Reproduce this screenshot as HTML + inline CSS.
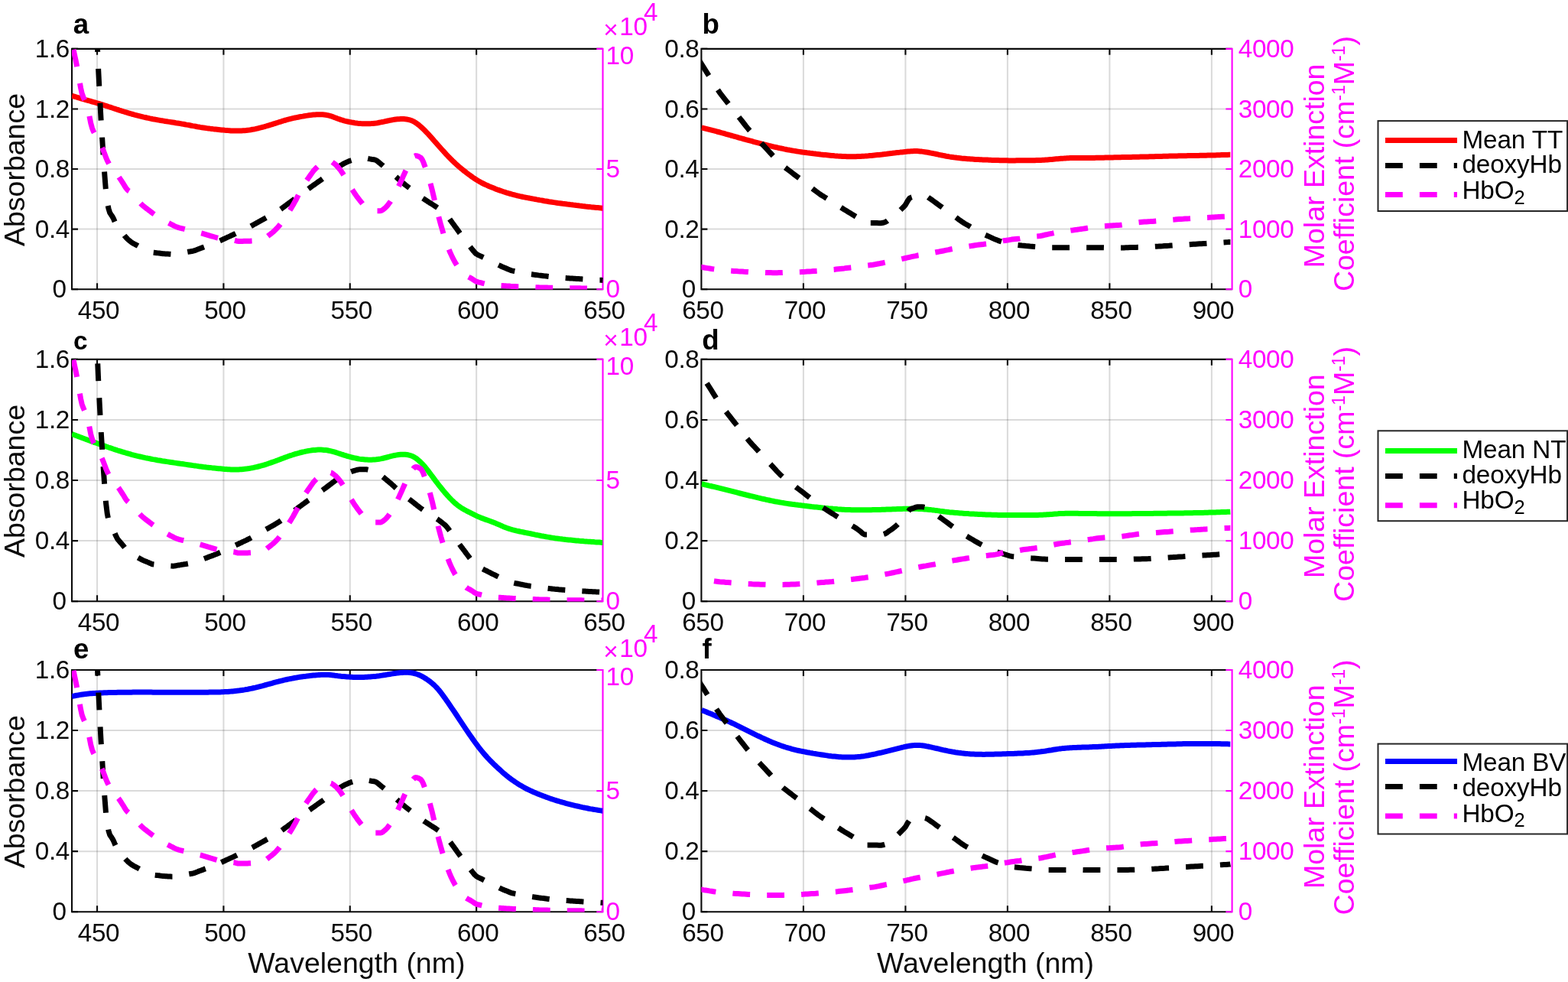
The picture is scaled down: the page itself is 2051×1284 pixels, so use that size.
<!DOCTYPE html>
<html lang="en"><head><meta charset="utf-8"><title>Absorbance spectra and haemoglobin extinction</title>
<style>html,body{margin:0;padding:0;background:#fff}body{width:2051px;height:1284px;overflow:hidden}svg{display:block}text{font-family:"Liberation Sans",Arial,Helvetica,sans-serif;}.t{font-size:33.33px;fill:#0a0a0a;letter-spacing:-0.4px}.l{font-size:37.5px;fill:#0a0a0a}.m{fill:#ff00ff}.b{font-weight:bold;fill:#000}.k{letter-spacing:-0.15px;fill:#000}.g{stroke:#262626;stroke-opacity:.17;stroke-width:2;fill:none}.ax{stroke:#0a0a0a;stroke-width:2.1;fill:none}.am{stroke:#ff00ff;stroke-width:2.1;fill:none}.d{fill:none;stroke-width:7;stroke-linejoin:round}</style></head><body>
<svg width="2051" height="1284" viewBox="0 0 2051 1284">
<rect width="2051" height="1284" fill="#fff"/>
<g id="panel-a">
<clipPath id="cpa"><rect x="94" y="63.35" width="695.1" height="315.05"/></clipPath>
<path class="g" d="M127.07,63.85 V378.2 M292.43,63.85 V378.2 M457.79,63.85 V378.2 M623.14,63.85 V378.2"/>
<path class="g" d="M94,299.61 H788.5 M94,221.03 H788.5 M94,142.44 H788.5"/>
<path class="ax" d="M788.5,63.85 H94 V378.2 H788.5"/>
<path class="ax" d="M127.07,378.2 v-8 M127.07,63.85 v8 M292.43,378.2 v-8 M292.43,63.85 v8 M457.79,378.2 v-8 M457.79,63.85 v8 M623.14,378.2 v-8 M623.14,63.85 v8 M94,378.2 h8 M94,299.61 h8 M94,221.03 h8 M94,142.44 h8 M94,63.85 h8"/>
<path class="am" d="M788.5,62.85 V379.2 M788.5,378.2 h-8.2 M788.5,221.03 h-8.2 M788.5,63.85 h-8.2"/>
<g clip-path="url(#cpa)">
<path class="d" stroke="#ff0000" d="M94,125.2 96,125.8 98,126.4 100,127 102,127.6 104,128.2 106,128.8 108,129.4 110,130 112,130.6 114,131.1 116,131.7 118,132.2 120,132.8 122,133.4 124,133.9 126,134.5 128,135.1 130,135.7 132,136.3 134,136.9 136,137.5 138,138.2 140,138.8 142,139.5 144,140.1 146,140.8 148,141.5 150,142.1 152,142.8 154,143.4 156,144.1 158,144.7 160,145.4 162,146 164,146.6 166,147.2 168,147.8 170,148.4 172,149 174,149.5 176,150.1 178,150.6 180,151.1 182,151.6 184,152.1 186,152.6 188,153.1 190,153.5 192,154 194,154.4 196,154.9 198,155.3 200,155.7 202,156 204,156.4 206,156.8 208,157.1 210,157.5 212,157.8 214,158.1 216,158.5 218,158.8 220,159.1 222,159.4 224,159.7 226,160 228,160.3 230,160.7 232,161 234,161.3 236,161.6 238,162 240,162.3 242,162.7 244,163.1 246,163.4 248,163.8 250,164.2 252,164.6 254,164.9 256,165.3 258,165.7 260,166 262,166.4 264,166.7 266,167 268,167.3 270,167.6 272,167.9 274,168.1 276,168.4 278,168.6 280,168.9 282,169.1 284,169.3 286,169.5 288,169.7 290,169.9 292,170.1 294,170.3 296,170.4 298,170.6 300,170.7 302,170.9 304,171 306,171 308,171.1 310,171.1 312,171.1 314,171 316,170.9 318,170.8 320,170.7 322,170.5 324,170.2 326,170 328,169.7 330,169.3 332,169 334,168.6 336,168.1 338,167.7 340,167.2 342,166.7 344,166.1 346,165.6 348,165 350,164.4 352,163.8 354,163.2 356,162.6 358,161.9 360,161.3 362,160.7 364,160 366,159.4 368,158.8 370,158.1 372,157.5 374,157 376,156.4 378,155.9 380,155.4 382,154.9 384,154.4 386,154 388,153.6 390,153.2 392,152.8 394,152.4 396,152.1 398,151.7 400,151.4 402,151.1 404,150.8 406,150.6 408,150.3 410,150.1 412,150 414,149.8 416,149.7 418,149.7 420,149.7 422,149.8 424,150 426,150.2 428,150.6 430,151 432,151.6 434,152.2 436,152.9 438,153.7 440,154.4 442,155.2 444,155.9 446,156.6 448,157.2 450,157.8 452,158.3 454,158.8 456,159.2 458,159.6 460,160 462,160.3 464,160.7 466,160.9 468,161.2 470,161.4 472,161.6 474,161.7 476,161.8 478,161.8 480,161.8 482,161.8 484,161.7 486,161.6 488,161.4 490,161.2 492,161 494,160.7 496,160.3 498,159.9 500,159.5 502,159.1 504,158.6 506,158.2 508,157.8 510,157.3 512,157 514,156.6 516,156.3 518,156 520,155.8 522,155.7 524,155.6 526,155.6 528,155.6 530,155.8 532,156 534,156.4 536,156.9 538,157.5 540,158.4 542,159.4 544,160.7 546,162.1 548,163.6 550,165.3 552,167.1 554,169 556,171 558,173.1 560,175.2 562,177.4 564,179.6 566,181.9 568,184.2 570,186.4 572,188.7 574,191 576,193.3 578,195.5 580,197.7 582,199.9 584,202.1 586,204.2 588,206.2 590,208.2 592,210.2 594,212.1 596,214 598,215.8 600,217.6 602,219.3 604,220.9 606,222.6 608,224.1 610,225.7 612,227.2 614,228.7 616,230.1 618,231.6 620,233 622,234.3 624,235.6 626,236.8 628,237.9 630,239 632,240 634,241 636,241.9 638,242.8 640,243.7 642,244.5 644,245.3 646,246.1 648,246.9 650,247.7 652,248.4 654,249.1 656,249.8 658,250.5 660,251.1 662,251.8 664,252.4 666,253 668,253.5 670,254.1 672,254.6 674,255.2 676,255.7 678,256.1 680,256.6 682,257 684,257.5 686,257.9 688,258.3 690,258.6 692,259 694,259.4 696,259.8 698,260.1 700,260.5 702,260.9 704,261.2 706,261.6 708,261.9 710,262.3 712,262.7 714,263 716,263.3 718,263.7 720,264 722,264.3 724,264.6 726,264.9 728,265.2 730,265.5 732,265.7 734,266 736,266.3 738,266.5 740,266.7 742,267 744,267.2 746,267.5 748,267.7 750,268 752,268.2 754,268.5 756,268.7 758,269 760,269.2 762,269.5 764,269.7 766,270 768,270.2 770,270.4 772,270.6 774,270.9 776,271.1 778,271.3 780,271.5 782,271.6 784,271.8 786,272 788,272.2 788.2,272.2"/>
<path class="d" stroke="#000" stroke-dasharray="22.8 22.1" stroke-dashoffset="21.23" d="M94,-920.9 95.7,-890.1 97.3,-852.9 99,-810.4 100.6,-763.6 102.3,-705.4 103.9,-635.7 105.6,-566.7 107.2,-510.5 108.9,-470.3 110.5,-437.1 112.2,-404.8 113.8,-367.5 115.5,-322.5 117.2,-272.4 118.8,-219.7 120.5,-166.6 122.1,-110.3 123.8,-50.5 125.4,6.2 127.1,53.5 128.7,91.5 130.4,125 132,154.7 133.7,181.3 135.3,206.6 137,230.6 138.6,250.8 140.3,264.5 142,272.8 143.6,278.1 145.3,280.7 146.9,283 148.6,286.2 150.2,290 151.9,293.8 153.5,296.8 155.2,299.1 156.8,301 158.5,302.8 160.1,304.7 161.8,306.7 163.4,308.8 165.1,310.8 166.8,312.5 168.4,314 170.1,315.3 171.7,316.6 173.4,317.7 175,318.6 176.7,319.5 178.3,320.3 180,321.2 181.6,322.1 183.3,323 184.9,323.9 186.6,324.7 188.3,325.4 189.9,326.1 191.6,326.8 193.2,327.4 194.9,328.1 196.5,328.9 198.2,329.6 199.8,330.1 201.5,330.3 203.1,330.5 204.8,330.7 206.4,330.9 208.1,331.1 209.8,331.3 211.4,331.5 213.1,331.7 214.7,331.8 216.4,331.9 218,332 219.7,332.1 221.3,332.2 223,332.3 224.6,332.4 226.3,332.5 227.9,332.3 229.6,332.1 231.2,331.7 232.9,331.4 234.6,331.2 236.2,330.9 237.9,330.6 239.5,330.4 241.2,330.1 242.8,329.9 244.5,329.6 246.1,329.3 247.8,329.1 249.4,328.8 251.1,328.6 252.7,328.2 254.4,327.7 256.1,327.1 257.7,326.4 259.4,325.8 261,325.1 262.7,324.5 264.3,323.9 266,323.3 267.6,322.7 269.3,322 270.9,321.4 272.6,320.8 274.2,320.2 275.9,319.6 277.5,319 279.2,318.3 280.9,317.7 282.5,317 284.2,316.4 285.8,315.7 287.5,314.9 289.1,314.2 290.8,313.4 292.4,312.6 294.1,311.9 295.7,311.1 297.4,310.3 299,309.6 300.7,308.8 302.4,308 304,307.3 305.7,306.5 307.3,305.8 309,305 310.6,304.2 312.3,303.5 313.9,302.7 315.6,302 317.2,301.2 318.9,300.4 320.5,299.6 322.2,298.8 323.8,298 325.5,297.2 327.2,296.3 328.8,295.4 330.5,294.4 332.1,293.5 333.8,292.6 335.4,291.7 337.1,290.8 338.7,289.9 340.4,289 342,288 343.7,287.1 345.3,286.2 347,285.3 348.6,284.4 350.3,283.5 352,282.6 353.6,281.6 355.3,280.7 356.9,279.8 358.6,278.9 360.2,277.9 361.9,277 363.5,276 365.2,274.9 366.8,273.8 368.5,272.6 370.1,271.3 371.8,270.1 373.5,268.9 375.1,267.6 376.8,266.4 378.4,265.2 380.1,264 381.7,262.8 383.4,261.6 385,260.4 386.7,259.1 388.3,257.9 390,256.7 391.6,255.5 393.3,254.3 394.9,253 396.6,251.8 398.3,250.6 399.9,249.4 401.6,248.3 403.2,247.1 404.9,245.9 406.5,244.7 408.2,243.5 409.8,242.3 411.5,241.2 413.1,240 414.8,238.8 416.4,237.6 418.1,236.5 419.8,235.3 421.4,234.1 423.1,232.9 424.7,231.7 426.4,230.5 428,229.3 429.7,228.1 431.3,226.8 433,225.6 434.6,224.4 436.3,223.2 437.9,221.9 439.6,220.7 441.2,219.4 442.9,218.2 444.6,217 446.2,216 447.9,215 449.5,214 451.2,213.2 452.8,212.4 454.5,211.6 456.1,210.9 457.8,210.3 459.4,209.7 461.1,209.2 462.7,208.6 464.4,208.2 466.1,207.8 467.7,207.3 469.4,207 471,206.8 472.7,206.8 474.3,206.8 476,206.8 477.6,206.8 479.3,206.9 480.9,207.2 482.6,207.6 484.2,207.9 485.9,208.2 487.6,208.4 489.2,208.7 490.9,209.1 492.5,209.9 494.2,211.1 495.8,212.5 497.5,213.9 499.1,215.2 500.8,216.5 502.4,217.9 504.1,219.2 505.7,220.6 507.4,221.9 509,223.3 510.7,224.7 512.4,226.2 514,227.6 515.7,229.1 517.3,230.6 519,232.1 520.6,233.6 522.3,235.1 523.9,236.5 525.6,237.9 527.2,239.3 528.9,240.6 530.5,242 532.2,243.3 533.8,244.5 535.5,245.8 537.2,247.1 538.8,248.3 540.5,249.6 542.1,250.9 543.8,252.2 545.4,253.5 547.1,254.8 548.7,256 550.4,257.3 552,258.5 553.7,259.6 555.3,260.7 557,261.8 558.7,262.9 560.3,264 562,265 563.6,266.1 565.3,267.1 566.9,268.1 568.6,269.2 570.2,270.3 571.9,271.4 573.5,272.5 575.2,273.7 576.8,274.9 578.5,276.2 580.1,277.5 581.8,278.9 583.5,280.5 585.1,282.4 586.8,284.6 588.4,286.9 590.1,289.2 591.7,291.4 593.4,293.6 595,295.9 596.7,298.1 598.3,300.4 600,302.7 601.6,305 603.3,307.2 605,309.4 606.6,311.6 608.3,313.8 609.9,316 611.6,318.1 613.2,320.4 614.9,322.5 616.5,324.6 618.2,326.7 619.8,328.7 621.5,330.6 623.1,332.1 624.8,333.1 626.5,333.9 628.1,334.6 629.8,335.4 631.4,336.2 633.1,337 634.7,337.9 636.4,338.7 638,339.5 639.7,340.4 641.3,341.2 643,342 644.6,342.8 646.3,343.6 647.9,344.5 649.6,345.3 651.3,346.1 652.9,346.9 654.6,347.7 656.2,348.5 657.9,349.2 659.5,349.9 661.2,350.5 662.8,351.2 664.5,351.9 666.1,352.6 667.8,353.3 669.4,353.8 671.1,354.2 672.8,354.5 674.4,354.8 676.1,355.1 677.7,355.4 679.4,355.8 681,356.1 682.7,356.4 684.3,356.8 686,357.1 687.6,357.4 689.3,357.7 690.9,358 692.6,358.3 694.2,358.5 695.9,358.7 697.6,359 699.2,359.2 700.9,359.4 702.5,359.6 704.2,359.9 705.8,360.1 707.5,360.3 709.1,360.5 710.8,360.7 712.4,360.9 714.1,361.1 715.7,361.3 717.4,361.5 719.1,361.7 720.7,361.8 722.4,362 724,362.2 725.7,362.4 727.3,362.5 729,362.7 730.6,362.9 732.3,363 733.9,363.2 735.6,363.3 737.2,363.4 738.9,363.5 740.5,363.6 742.2,363.7 743.9,363.8 745.5,363.9 747.2,364 748.8,364.1 750.5,364.2 752.1,364.3 753.8,364.4 755.4,364.5 757.1,364.6 758.7,364.7 760.4,364.8 762,364.9 763.7,365 765.4,365.1 767,365.2 768.7,365.3 770.3,365.4 772,365.5 773.6,365.6 775.3,365.7 776.9,365.8 778.6,365.9 780.2,366 781.9,366.1 783.5,366.2 785.2,366.2 786.8,366.3 788.5,366.4"/>
<path class="d" stroke="#ff00ff" stroke-dasharray="22.8 22.1" stroke-dashoffset="35.54" d="M94,55.7 95.7,63 97.3,70.6 99,78.4 100.6,86.5 102.3,95.7 103.9,105.7 105.6,115 107.2,122.2 108.9,126.8 110.5,130.4 112.2,133.9 113.8,138.3 115.5,144.9 117.2,153.2 118.8,161.3 120.5,167.4 122.1,171.5 123.8,174.8 125.4,177.7 127.1,180.7 128.7,183.8 130.4,186.8 132,189.8 133.7,193.2 135.3,197.1 137,201.5 138.6,205.9 140.3,209.9 142,213.1 143.6,216.2 145.3,219.7 146.9,222.6 148.6,224.5 150.2,225.9 151.9,227.3 153.5,228.9 155.2,231 156.8,233.4 158.5,235.9 160.1,238.4 161.8,241 163.4,243.8 165.1,246.3 166.8,248.3 168.4,249.7 170.1,250.7 171.7,251.8 173.4,253.1 175,254.9 176.7,257.2 178.3,259.5 180,261.7 181.6,263.5 183.3,265.3 184.9,267 186.6,268.6 188.3,270 189.9,271.3 191.6,272.6 193.2,273.8 194.9,275.1 196.5,276.3 198.2,277.6 199.8,278.8 201.5,280 203.1,281.2 204.8,282.4 206.4,283.5 208.1,284.6 209.8,285.6 211.4,286.6 213.1,287.5 214.7,288.4 216.4,289.3 218,290.2 219.7,291.1 221.3,291.9 223,292.8 224.6,293.7 226.3,294.5 227.9,295.3 229.6,296.1 231.2,296.8 232.9,297.4 234.6,297.9 236.2,298.3 237.9,298.7 239.5,299 241.2,299.5 242.8,299.9 244.5,300.3 246.1,300.7 247.8,301 249.4,301.4 251.1,301.8 252.7,302.2 254.4,302.6 256.1,303 257.7,303.3 259.4,303.7 261,304.2 262.7,304.7 264.3,305.1 266,305.6 267.6,306.1 269.3,306.6 270.9,307.1 272.6,307.6 274.2,308.1 275.9,308.6 277.5,309 279.2,309.5 280.9,310 282.5,310.5 284.2,311 285.8,311.4 287.5,311.7 289.1,311.9 290.8,312.2 292.4,312.4 294.1,312.7 295.7,313 297.4,313.2 299,313.5 300.7,313.6 302.4,313.7 304,313.8 305.7,314 307.3,314.4 309,314.9 310.6,315.3 312.3,315.5 313.9,315.5 315.6,315.4 317.2,315.4 318.9,315.3 320.5,315.3 322.2,315.3 323.8,315.3 325.5,315.2 327.2,315.2 328.8,315.1 330.5,315 332.1,314.9 333.8,314.7 335.4,314.5 337.1,314.3 338.7,314 340.4,313.7 342,313.3 343.7,312.8 345.3,312.2 347,311.3 348.6,310.1 350.3,308.8 352,307.4 353.6,306.2 355.3,304.9 356.9,303.6 358.6,302.1 360.2,300.5 361.9,298.8 363.5,297 365.2,295.1 366.8,293 368.5,290.8 370.1,288.5 371.8,286.2 373.5,283.8 375.1,281.3 376.8,278.7 378.4,276 380.1,273.4 381.7,270.7 383.4,267.9 385,265.1 386.7,262.1 388.3,258.9 390,255.7 391.6,252.6 393.3,249.4 394.9,246.2 396.6,243.1 398.3,240.3 399.9,237.7 401.6,235.3 403.2,233 404.9,230.7 406.5,228.3 408.2,226 409.8,223.8 411.5,221.8 413.1,220.1 414.8,218.5 416.4,217 418.1,215.6 419.8,214.2 421.4,212.6 423.1,211.4 424.7,210.9 426.4,210.8 428,210.7 429.7,210.7 431.3,210.7 433,211 434.6,211.9 436.3,213.2 437.9,214.4 439.6,215.8 441.2,217.5 442.9,219.4 444.6,221.4 446.2,223.7 447.9,226.2 449.5,228.8 451.2,231.5 452.8,234.3 454.5,237.2 456.1,240.2 457.8,243 459.4,245.7 461.1,248.4 462.7,251 464.4,253.5 466.1,255.9 467.7,258.2 469.4,260.4 471,262.5 472.7,264.5 474.3,266.6 476,268.4 477.6,269.8 479.3,270.8 480.9,271.6 482.6,272.3 484.2,273 485.9,273.9 487.6,274.7 489.2,275.4 490.9,275.7 492.5,275.7 494.2,275.7 495.8,275.7 497.5,275.7 499.1,275.3 500.8,274.3 502.4,273 504.1,271.6 505.7,270 507.4,268 509,265.8 510.7,263.5 512.4,260.9 514,258.1 515.7,255 517.3,251.9 519,248.7 520.6,245.3 522.3,241.9 523.9,238.3 525.6,234.7 527.2,230.9 528.9,227.2 530.5,223.6 532.2,220.1 533.8,216.5 535.5,213.3 537.2,210.6 538.8,208.2 540.5,206 542.1,204.3 543.8,203.6 545.4,203.8 547.1,204.3 548.7,205.2 550.4,206.2 552,208.2 553.7,211.8 555.3,216.2 557,220.7 558.7,225.3 560.3,230.6 562,236.2 563.6,242.1 565.3,248.5 566.9,255.4 568.6,262.5 570.2,269.3 571.9,275.9 573.5,282.3 575.2,288.6 576.8,294.6 578.5,300.3 580.1,305.9 581.8,311.1 583.5,316.1 585.1,320.7 586.8,325.1 588.4,329.2 590.1,332.9 591.7,336.4 593.4,339.6 595,342.6 596.7,345.3 598.3,347.8 600,350 601.6,352.1 603.3,354.1 605,355.9 606.6,357.5 608.3,359 609.9,360.3 611.6,361.4 613.2,362.3 614.9,363.1 616.5,364 618.2,365.1 619.8,366.3 621.5,367.3 623.1,368.1 624.8,368.7 626.5,369.1 628.1,369.4 629.8,369.8 631.4,370.3 633.1,370.7 634.7,371.1 636.4,371.5 638,371.8 639.7,372.1 641.3,372.4 643,372.6 644.6,372.7 646.3,372.8 647.9,372.9 649.6,373 651.3,373.1 652.9,373.2 654.6,373.4 656.2,373.5 657.9,373.6 659.5,373.7 661.2,373.8 662.8,373.9 664.5,374 666.1,374.1 667.8,374.3 669.4,374.4 671.1,374.5 672.8,374.5 674.4,374.6 676.1,374.7 677.7,374.8 679.4,374.8 681,374.9 682.7,375 684.3,375 686,375.1 687.6,375.2 689.3,375.2 690.9,375.3 692.6,375.4 694.2,375.4 695.9,375.5 697.6,375.6 699.2,375.6 700.9,375.7 702.5,375.8 704.2,375.8 705.8,375.9 707.5,375.9 709.1,376 710.8,376 712.4,376.1 714.1,376.1 715.7,376.1 717.4,376.2 719.1,376.2 720.7,376.2 722.4,376.3 724,376.3 725.7,376.4 727.3,376.4 729,376.4 730.6,376.5 732.3,376.5 733.9,376.6 735.6,376.6 737.2,376.6 738.9,376.6 740.5,376.7 742.2,376.7 743.9,376.7 745.5,376.7 747.2,376.7 748.8,376.8 750.5,376.8 752.1,376.8 753.8,376.8 755.4,376.8 757.1,376.8 758.7,376.8 760.4,376.9 762,376.9 763.7,376.9 765.4,376.9 767,376.9 768.7,376.9 770.3,376.9 772,377 773.6,377 775.3,377 776.9,377 778.6,377 780.2,377 781.9,377 783.5,377 785.2,377 786.8,377 788.5,377"/>
</g>
<text class="t" x="86.6" y="389.3" text-anchor="end">0</text>
<text class="t" x="91" y="310.71" text-anchor="end">0.4</text>
<text class="t" x="91" y="232.12" text-anchor="end">0.8</text>
<text class="t" x="91" y="153.54" text-anchor="end">1.2</text>
<text class="t" x="91" y="74.95" text-anchor="end">1.6</text>
<text class="t" x="129.07" y="417" text-anchor="middle">450</text>
<text class="t" x="294.43" y="417" text-anchor="middle">500</text>
<text class="t" x="459.79" y="417" text-anchor="middle">550</text>
<text class="t" x="625.14" y="417" text-anchor="middle">600</text>
<text class="t" x="790.5" y="417" text-anchor="middle">650</text>
<text class="t m" x="792.5" y="389.3">0</text>
<text class="t m" x="792.5" y="232.12">5</text>
<text class="t m" x="792.5" y="83.65">10</text>
<text class="t m" x="789.3" y="46.2"><tspan dy="4.0">×</tspan><tspan dx="1.9" dy="-4.0">10</tspan><tspan dx="-4.6" dy="-19">4</tspan></text>
<text class="l" transform="translate(31.9,222) rotate(-90)" text-anchor="middle">Absorbance</text>
<text class="b" x="95.7" y="44.4" font-size="36.67">a</text>
</g>
<g id="panel-b">
<clipPath id="cpb"><rect x="917.4" y="63.35" width="694.8" height="315.05"/></clipPath>
<path class="g" d="M1050.9,63.85 V378.2 M1184.4,63.85 V378.2 M1317.9,63.85 V378.2 M1451.4,63.85 V378.2 M1584.9,63.85 V378.2"/>
<path class="g" d="M917.4,299.61 H1611.6 M917.4,221.03 H1611.6 M917.4,142.44 H1611.6"/>
<path class="ax" d="M1611.6,63.85 H917.4 V378.2 H1611.6"/>
<path class="ax" d="M1050.9,378.2 v-8 M1050.9,63.85 v8 M1184.4,378.2 v-8 M1184.4,63.85 v8 M1317.9,378.2 v-8 M1317.9,63.85 v8 M1451.4,378.2 v-8 M1451.4,63.85 v8 M1584.9,378.2 v-8 M1584.9,63.85 v8 M917.4,378.2 h8 M917.4,299.61 h8 M917.4,221.03 h8 M917.4,142.44 h8 M917.4,63.85 h8"/>
<path class="am" d="M1611.6,62.85 V379.2 M1611.6,378.2 h-8.2 M1611.6,299.61 h-8.2 M1611.6,221.03 h-8.2 M1611.6,142.44 h-8.2 M1611.6,63.85 h-8.2"/>
<g clip-path="url(#cpb)">
<path class="d" stroke="#ff0000" d="M917.7,166.8 919.7,167.3 921.7,167.8 923.7,168.3 925.7,168.8 927.7,169.3 929.7,169.8 931.7,170.4 933.7,170.9 935.7,171.4 937.7,172 939.7,172.5 941.7,173 943.7,173.6 945.7,174.1 947.7,174.7 949.7,175.3 951.7,175.8 953.7,176.4 955.7,177 957.7,177.5 959.7,178.1 961.7,178.7 963.7,179.2 965.7,179.8 967.7,180.4 969.7,180.9 971.7,181.5 973.7,182 975.7,182.6 977.7,183.1 979.7,183.7 981.7,184.2 983.7,184.7 985.7,185.3 987.7,185.8 989.7,186.3 991.7,186.8 993.7,187.3 995.7,187.9 997.7,188.4 999.7,188.9 1001.7,189.4 1003.7,189.9 1005.7,190.4 1007.7,190.8 1009.7,191.3 1011.7,191.8 1013.7,192.3 1015.7,192.7 1017.7,193.2 1019.7,193.6 1021.7,194 1023.7,194.4 1025.7,194.9 1027.7,195.3 1029.7,195.7 1031.7,196 1033.7,196.4 1035.7,196.8 1037.7,197.1 1039.7,197.4 1041.7,197.8 1043.7,198.1 1045.7,198.4 1047.7,198.7 1049.7,199 1051.7,199.2 1053.7,199.5 1055.7,199.8 1057.7,200 1059.7,200.3 1061.7,200.5 1063.7,200.8 1065.7,201 1067.7,201.3 1069.7,201.5 1071.7,201.7 1073.7,202 1075.7,202.2 1077.7,202.4 1079.7,202.6 1081.7,202.8 1083.7,203 1085.7,203.2 1087.7,203.4 1089.7,203.6 1091.7,203.8 1093.7,203.9 1095.7,204.1 1097.7,204.2 1099.7,204.3 1101.7,204.5 1103.7,204.6 1105.7,204.6 1107.7,204.7 1109.7,204.8 1111.7,204.8 1113.7,204.8 1115.7,204.8 1117.7,204.8 1119.7,204.7 1121.7,204.6 1123.7,204.6 1125.7,204.5 1127.7,204.3 1129.7,204.2 1131.7,204.1 1133.7,203.9 1135.7,203.8 1137.7,203.6 1139.7,203.4 1141.7,203.2 1143.7,203 1145.7,202.8 1147.7,202.6 1149.7,202.4 1151.7,202.2 1153.7,202 1155.7,201.7 1157.7,201.5 1159.7,201.3 1161.7,201 1163.7,200.8 1165.7,200.6 1167.7,200.3 1169.7,200.1 1171.7,199.8 1173.7,199.6 1175.7,199.4 1177.7,199.1 1179.7,198.9 1181.7,198.7 1183.7,198.5 1185.7,198.3 1187.7,198.1 1189.7,197.9 1191.7,197.8 1193.7,197.7 1195.7,197.6 1197.7,197.6 1199.7,197.6 1201.7,197.7 1203.7,197.9 1205.7,198.1 1207.7,198.4 1209.7,198.7 1211.7,199 1213.7,199.3 1215.7,199.7 1217.7,200.1 1219.7,200.5 1221.7,200.9 1223.7,201.3 1225.7,201.7 1227.7,202.2 1229.7,202.6 1231.7,203 1233.7,203.4 1235.7,203.8 1237.7,204.2 1239.7,204.5 1241.7,204.9 1243.7,205.2 1245.7,205.5 1247.7,205.8 1249.7,206 1251.7,206.3 1253.7,206.5 1255.7,206.7 1257.7,207 1259.7,207.2 1261.7,207.3 1263.7,207.5 1265.7,207.7 1267.7,207.8 1269.7,208 1271.7,208.1 1273.7,208.2 1275.7,208.4 1277.7,208.5 1279.7,208.6 1281.7,208.7 1283.7,208.8 1285.7,208.9 1287.7,209 1289.7,209.1 1291.7,209.1 1293.7,209.2 1295.7,209.3 1297.7,209.4 1299.7,209.5 1301.7,209.5 1303.7,209.6 1305.7,209.6 1307.7,209.7 1309.7,209.7 1311.7,209.8 1313.7,209.8 1315.7,209.8 1317.7,209.8 1319.7,209.9 1321.7,209.9 1323.7,209.9 1325.7,209.9 1327.7,209.9 1329.7,209.8 1331.7,209.8 1333.7,209.8 1335.7,209.8 1337.7,209.8 1339.7,209.8 1341.7,209.8 1343.7,209.8 1345.7,209.8 1347.7,209.7 1349.7,209.7 1351.7,209.7 1353.7,209.7 1355.7,209.6 1357.7,209.5 1359.7,209.5 1361.7,209.4 1363.7,209.3 1365.7,209.2 1367.7,209 1369.7,208.9 1371.7,208.7 1373.7,208.5 1375.7,208.4 1377.7,208.2 1379.7,208 1381.7,207.8 1383.7,207.7 1385.7,207.5 1387.7,207.3 1389.7,207.2 1391.7,207.1 1393.7,206.9 1395.7,206.8 1397.7,206.7 1399.7,206.6 1401.7,206.5 1403.7,206.5 1405.7,206.4 1407.7,206.4 1409.7,206.4 1411.7,206.4 1413.7,206.4 1415.7,206.4 1417.7,206.4 1419.7,206.4 1421.7,206.4 1423.7,206.4 1425.7,206.4 1427.7,206.4 1429.7,206.4 1431.7,206.4 1433.7,206.3 1435.7,206.3 1437.7,206.3 1439.7,206.2 1441.7,206.2 1443.7,206.2 1445.7,206.1 1447.7,206.1 1449.7,206 1451.7,206 1453.7,205.9 1455.7,205.9 1457.7,205.8 1459.7,205.8 1461.7,205.8 1463.7,205.7 1465.7,205.7 1467.7,205.6 1469.7,205.6 1471.7,205.5 1473.7,205.5 1475.7,205.5 1477.7,205.4 1479.7,205.4 1481.7,205.3 1483.7,205.3 1485.7,205.3 1487.7,205.2 1489.7,205.2 1491.7,205.1 1493.7,205.1 1495.7,205 1497.7,205 1499.7,204.9 1501.7,204.9 1503.7,204.8 1505.7,204.8 1507.7,204.7 1509.7,204.7 1511.7,204.6 1513.7,204.5 1515.7,204.5 1517.7,204.4 1519.7,204.4 1521.7,204.3 1523.7,204.3 1525.7,204.2 1527.7,204.2 1529.7,204.1 1531.7,204.1 1533.7,204 1535.7,204 1537.7,203.9 1539.7,203.9 1541.7,203.8 1543.7,203.8 1545.7,203.8 1547.7,203.7 1549.7,203.7 1551.7,203.7 1553.7,203.6 1555.7,203.6 1557.7,203.6 1559.7,203.5 1561.7,203.5 1563.7,203.5 1565.7,203.4 1567.7,203.4 1569.7,203.3 1571.7,203.3 1573.7,203.3 1575.7,203.2 1577.7,203.2 1579.7,203.1 1581.7,203.1 1583.7,203 1585.7,203 1587.7,202.9 1589.7,202.9 1591.7,202.8 1593.7,202.8 1595.7,202.7 1597.7,202.6 1599.7,202.6 1601.7,202.5 1603.7,202.5 1605.7,202.4 1607.7,202.3 1609.3,202.3"/>
<path class="d" stroke="#000" stroke-dasharray="22.8 22.1" stroke-dashoffset="18.41" d="M901.4,56.9 904,61.9 906.7,66.6 909.4,70.9 912.1,75 914.7,79.3 917.4,83.5 920.1,87.7 922.7,91.9 925.4,96.2 928.1,100.4 930.8,104.6 933.4,108.8 936.1,113.1 938.8,117.3 941.4,121.1 944.1,124.6 946.8,128.1 949.4,131.4 952.1,134.8 954.8,138.2 957.4,141.6 960.1,145 962.8,148.4 965.5,151.8 968.1,155.1 970.8,158.5 973.5,162 976.1,165.3 978.8,168.6 981.5,171.7 984.1,174.6 986.8,177.5 989.5,180.3 992.2,183.2 994.8,186.1 997.5,189 1000.2,191.8 1002.8,194.7 1005.5,197.6 1008.2,200.5 1010.8,203.4 1013.5,206.2 1016.2,209.2 1018.9,212 1021.5,214.6 1024.2,216.9 1026.9,219 1029.5,221 1032.2,223 1034.9,225 1037.5,227.1 1040.2,229.1 1042.9,231.1 1045.6,233.1 1048.2,235.1 1050.9,237.2 1053.6,239.3 1056.2,241.4 1058.9,243.5 1061.6,245.6 1064.2,247.7 1066.9,249.8 1069.6,251.8 1072.3,253.8 1074.9,255.5 1077.6,257.1 1080.3,258.8 1082.9,260.5 1085.6,262.2 1088.3,263.9 1091,265.6 1093.6,267.3 1096.3,269 1099,270.7 1101.6,272.3 1104.3,274 1107,275.6 1109.6,277.2 1112.3,278.8 1115,280.4 1117.6,282 1120.3,283.6 1123,285.6 1125.7,287.6 1128.3,290.1 1131,291.6 1133.7,291.6 1136.3,291.6 1139,291.6 1141.7,291.6 1144.3,291.6 1147,291.6 1149.7,291.7 1152.4,291.7 1155,291.3 1157.7,290.5 1160.4,288.9 1163,286.9 1165.7,285.2 1168.4,283.3 1171,281.1 1173.7,278.7 1176.4,276.1 1179.1,273.4 1181.7,270.8 1184.4,267.8 1187.1,263 1189.7,259.1 1192.4,257.9 1195.1,257 1197.8,256.1 1200.4,255.6 1203.1,255.6 1205.8,255.6 1208.4,255.9 1211.1,256.5 1213.8,257.8 1216.4,259.7 1219.1,261.5 1221.8,263.5 1224.4,265.4 1227.1,267.4 1229.8,269.3 1232.5,271.2 1235.1,273.2 1237.8,275.1 1240.5,277 1243.1,279 1245.8,280.9 1248.5,282.9 1251.2,284.8 1253.8,286.8 1256.5,288.7 1259.2,290.6 1261.8,292.2 1264.5,293.7 1267.2,295.2 1269.8,296.8 1272.5,298.3 1275.2,299.9 1277.8,301.4 1280.5,303 1283.2,304.4 1285.9,305.8 1288.5,307 1291.2,308.2 1293.9,309.4 1296.5,310.6 1299.2,311.9 1301.9,313.1 1304.5,314.1 1307.2,315.1 1309.9,315.9 1312.6,316.7 1315.2,317.5 1317.9,318.3 1320.6,319.1 1323.2,319.7 1325.9,320 1328.6,320.3 1331.2,320.5 1333.9,320.8 1336.6,321.1 1339.3,321.3 1341.9,321.6 1344.6,321.8 1347.3,322.1 1349.9,322.3 1352.6,322.5 1355.3,322.7 1357.9,322.9 1360.6,323.1 1363.3,323.3 1366,323.5 1368.6,323.6 1371.3,323.7 1374,323.7 1376.6,323.7 1379.3,323.7 1382,323.7 1384.7,323.7 1387.3,323.7 1390,323.7 1392.7,323.7 1395.3,323.7 1398,323.7 1400.7,323.7 1403.3,323.7 1406,323.8 1408.7,323.8 1411.3,323.8 1414,323.8 1416.7,323.8 1419.4,323.8 1422,323.8 1424.7,323.8 1427.4,323.8 1430,323.8 1432.7,323.8 1435.4,323.8 1438,323.8 1440.7,323.8 1443.4,323.8 1446.1,323.9 1448.7,323.9 1451.4,323.9 1454.1,323.9 1456.7,323.9 1459.4,323.9 1462.1,323.9 1464.8,323.9 1467.4,323.9 1470.1,323.9 1472.8,323.8 1475.4,323.7 1478.1,323.6 1480.8,323.6 1483.4,323.5 1486.1,323.4 1488.8,323.3 1491.4,323.3 1494.1,323.2 1496.8,323.1 1499.5,323 1502.1,322.9 1504.8,322.7 1507.5,322.6 1510.1,322.4 1512.8,322.2 1515.5,322.1 1518.2,321.9 1520.8,321.8 1523.5,321.6 1526.2,321.4 1528.8,321.3 1531.5,321.1 1534.2,320.9 1536.8,320.8 1539.5,320.6 1542.2,320.5 1544.8,320.3 1547.5,320.1 1550.2,320 1552.9,319.8 1555.5,319.7 1558.2,319.5 1560.9,319.3 1563.5,319.2 1566.2,319 1568.9,318.8 1571.5,318.7 1574.2,318.5 1576.9,318.4 1579.6,318.2 1582.2,318 1584.9,317.9 1587.6,317.7 1590.2,317.5 1592.9,317.4 1595.6,317.2 1598.2,317.1 1600.9,316.9 1603.6,316.7 1606.3,316.6 1608.9,316.4 1609.4,316.4"/>
<path class="d" stroke="#ff00ff" stroke-dasharray="22.8 22.1" stroke-dashoffset="34.45" d="M901.4,346.4 904,347 906.7,347.5 909.4,348 912.1,348.4 914.7,348.8 917.4,349.3 920.1,349.7 922.7,350.2 925.4,350.6 928.1,351 930.8,351.5 933.4,351.9 936.1,352.3 938.8,352.6 941.4,352.9 944.1,353.1 946.8,353.3 949.4,353.5 952.1,353.7 954.8,354 957.4,354.2 960.1,354.4 962.8,354.6 965.5,354.8 968.1,354.9 970.8,355.1 973.5,355.3 976.1,355.4 978.8,355.6 981.5,355.8 984.1,355.9 986.8,356 989.5,356.2 992.2,356.3 994.8,356.3 997.5,356.4 1000.2,356.4 1002.8,356.5 1005.5,356.6 1008.2,356.6 1010.8,356.7 1013.5,356.8 1016.2,356.7 1018.9,356.6 1021.5,356.6 1024.2,356.5 1026.9,356.4 1029.5,356.4 1032.2,356.3 1034.9,356.3 1037.5,356.2 1040.2,356 1042.9,355.9 1045.6,355.7 1048.2,355.6 1050.9,355.4 1053.6,355.3 1056.2,355.1 1058.9,354.9 1061.6,354.8 1064.2,354.6 1066.9,354.4 1069.6,354.2 1072.3,354 1074.9,353.7 1077.6,353.5 1080.3,353.3 1082.9,353.1 1085.6,352.9 1088.3,352.6 1091,352.4 1093.6,352.1 1096.3,351.8 1099,351.5 1101.6,351.2 1104.3,350.9 1107,350.5 1109.6,350.2 1112.3,349.9 1115,349.6 1117.6,349.3 1120.3,348.9 1123,348.6 1125.7,348.2 1128.3,347.9 1131,347.6 1133.7,347.2 1136.3,346.9 1139,346.5 1141.7,346.2 1144.3,345.8 1147,345.3 1149.7,344.8 1152.4,344.2 1155,343.7 1157.7,343.1 1160.4,342.6 1163,342.1 1165.7,341.6 1168.4,341 1171,340.5 1173.7,339.9 1176.4,339.3 1179.1,338.7 1181.7,338.1 1184.4,337.5 1187.1,336.9 1189.7,336.3 1192.4,335.7 1195.1,335.1 1197.8,334.6 1200.4,334 1203.1,333.6 1205.8,333.1 1208.4,332.6 1211.1,332.1 1213.8,331.7 1216.4,331.2 1219.1,330.7 1221.8,330.3 1224.4,329.8 1227.1,329.3 1229.8,328.7 1232.5,328.2 1235.1,327.7 1237.8,327.1 1240.5,326.6 1243.1,326 1245.8,325.5 1248.5,325 1251.2,324.5 1253.8,324 1256.5,323.6 1259.2,323.2 1261.8,322.8 1264.5,322.4 1267.2,322 1269.8,321.6 1272.5,321.2 1275.2,320.8 1277.8,320.4 1280.5,320 1283.2,319.7 1285.9,319.4 1288.5,319.1 1291.2,318.8 1293.9,318.5 1296.5,318.2 1299.2,317.9 1301.9,317.5 1304.5,317 1307.2,316.4 1309.9,315.5 1312.6,314.8 1315.2,314.4 1317.9,314.1 1320.6,313.6 1323.2,313.1 1325.9,312.8 1328.6,312.5 1331.2,312.2 1333.9,311.9 1336.6,311.4 1339.3,310.9 1341.9,310.6 1344.6,310.3 1347.3,310 1349.9,309.7 1352.6,309.4 1355.3,309 1357.9,308.8 1360.6,308.5 1363.3,308 1366,307.3 1368.6,306.8 1371.3,306.2 1374,305.6 1376.6,305.1 1379.3,304.5 1382,304 1384.7,303.5 1387.3,303 1390,302.7 1392.7,302.3 1395.3,302 1398,301.7 1400.7,301.3 1403.3,301 1406,300.6 1408.7,300.3 1411.3,299.9 1414,299.5 1416.7,299.1 1419.4,298.7 1422,298.3 1424.7,297.9 1427.4,297.5 1430,297.1 1432.7,296.6 1435.4,296.2 1438,295.9 1440.7,295.7 1443.4,295.5 1446.1,295.4 1448.7,295.2 1451.4,295.1 1454.1,294.9 1456.7,294.7 1459.4,294.6 1462.1,294.4 1464.8,294.2 1467.4,293.9 1470.1,293.5 1472.8,293.1 1475.4,292.8 1478.1,292.4 1480.8,292 1483.4,291.6 1486.1,291.2 1488.8,290.9 1491.4,290.6 1494.1,290.3 1496.8,290.1 1499.5,289.9 1502.1,289.7 1504.8,289.6 1507.5,289.4 1510.1,289.2 1512.8,289 1515.5,288.8 1518.2,288.6 1520.8,288.4 1523.5,288.2 1526.2,288 1528.8,287.7 1531.5,287.5 1534.2,287.3 1536.8,287.1 1539.5,286.8 1542.2,286.6 1544.8,286.4 1547.5,286.3 1550.2,286.1 1552.9,285.9 1555.5,285.8 1558.2,285.6 1560.9,285.5 1563.5,285.3 1566.2,285.2 1568.9,285 1571.5,284.8 1574.2,284.7 1576.9,284.5 1579.6,284.4 1582.2,284.2 1584.9,284.1 1587.6,283.9 1590.2,283.7 1592.9,283.6 1595.6,283.4 1598.2,283.3 1600.9,283.2 1603.6,283.1 1606.3,283 1608.9,282.9 1609.4,282.9"/>
</g>
<text class="t" x="910" y="389.3" text-anchor="end">0</text>
<text class="t" x="914.4" y="310.71" text-anchor="end">0.2</text>
<text class="t" x="914.4" y="232.12" text-anchor="end">0.4</text>
<text class="t" x="914.4" y="153.54" text-anchor="end">0.6</text>
<text class="t" x="914.4" y="74.95" text-anchor="end">0.8</text>
<text class="t" x="919.4" y="417" text-anchor="middle">650</text>
<text class="t" x="1052.9" y="417" text-anchor="middle">700</text>
<text class="t" x="1186.4" y="417" text-anchor="middle">750</text>
<text class="t" x="1319.9" y="417" text-anchor="middle">800</text>
<text class="t" x="1453.4" y="417" text-anchor="middle">850</text>
<text class="t" x="1586.9" y="417" text-anchor="middle">900</text>
<text class="t m" x="1619.8" y="389.3">0</text>
<text class="t m" x="1619.8" y="310.71">1000</text>
<text class="t m" x="1619.8" y="232.12">2000</text>
<text class="t m" x="1619.8" y="153.54">3000</text>
<text class="t m" x="1619.8" y="74.95">4000</text>
<text class="l m" transform="translate(1731.8,216.9) rotate(-90)" text-anchor="middle">Molar Extinction</text>
<text class="l m" transform="translate(1771.2,214.1) rotate(-90)" text-anchor="middle">Coefficient (cm<tspan dy="-12.5" font-size="23">-1</tspan><tspan dy="12.5">M</tspan><tspan dy="-12.5" font-size="23">-1</tspan><tspan dy="12.5">)</tspan></text>
<text class="b" x="918.5" y="44.4" font-size="36.67">b</text>
</g>
<g id="panel-c">
<clipPath id="cpc"><rect x="94" y="469.35" width="695.1" height="317.05"/></clipPath>
<path class="g" d="M127.07,469.85 V786.2 M292.43,469.85 V786.2 M457.79,469.85 V786.2 M623.14,469.85 V786.2"/>
<path class="g" d="M94,707.11 H788.5 M94,628.03 H788.5 M94,548.94 H788.5"/>
<path class="ax" d="M788.5,469.85 H94 V786.2 H788.5"/>
<path class="ax" d="M127.07,786.2 v-8 M127.07,469.85 v8 M292.43,786.2 v-8 M292.43,469.85 v8 M457.79,786.2 v-8 M457.79,469.85 v8 M623.14,786.2 v-8 M623.14,469.85 v8 M94,786.2 h8 M94,707.11 h8 M94,628.03 h8 M94,548.94 h8 M94,469.85 h8"/>
<path class="am" d="M788.5,468.85 V787.2 M788.5,786.2 h-8.2 M788.5,628.03 h-8.2 M788.5,469.85 h-8.2"/>
<g clip-path="url(#cpc)">
<path class="d" stroke="#00ff00" d="M94,567.5 96,568.3 98,569 100,569.8 102,570.5 104,571.3 106,572 108,572.8 110,573.5 112,574.2 114,575 116,575.7 118,576.4 120,577.1 122,577.9 124,578.6 126,579.3 128,580 130,580.7 132,581.4 134,582.2 136,582.9 138,583.6 140,584.3 142,585 144,585.6 146,586.3 148,587 150,587.7 152,588.3 154,589 156,589.6 158,590.2 160,590.8 162,591.4 164,592 166,592.6 168,593.2 170,593.7 172,594.3 174,594.8 176,595.3 178,595.8 180,596.3 182,596.8 184,597.2 186,597.7 188,598.1 190,598.6 192,599 194,599.4 196,599.8 198,600.2 200,600.6 202,600.9 204,601.3 206,601.7 208,602 210,602.3 212,602.7 214,603 216,603.3 218,603.6 220,603.9 222,604.2 224,604.5 226,604.8 228,605.1 230,605.4 232,605.7 234,606 236,606.3 238,606.5 240,606.8 242,607.1 244,607.4 246,607.7 248,608 250,608.3 252,608.6 254,608.9 256,609.1 258,609.4 260,609.7 262,609.9 264,610.2 266,610.5 268,610.7 270,611 272,611.2 274,611.4 276,611.6 278,611.9 280,612.1 282,612.3 284,612.5 286,612.7 288,612.8 290,613 292,613.2 294,613.4 296,613.5 298,613.7 300,613.8 302,613.9 304,614 306,614 308,614 310,614 312,613.9 314,613.8 316,613.7 318,613.5 320,613.3 322,613.1 324,612.8 326,612.5 328,612.1 330,611.8 332,611.4 334,610.9 336,610.5 338,610 340,609.5 342,608.9 344,608.4 346,607.8 348,607.2 350,606.5 352,605.8 354,605.1 356,604.4 358,603.7 360,603 362,602.2 364,601.5 366,600.7 368,599.9 370,599.2 372,598.4 374,597.7 376,597 378,596.3 380,595.6 382,595 384,594.3 386,593.7 388,593.1 390,592.6 392,592 394,591.5 396,591 398,590.6 400,590.1 402,589.8 404,589.4 406,589.1 408,588.8 410,588.6 412,588.4 414,588.2 416,588.1 418,588.1 420,588.1 422,588.2 424,588.4 426,588.6 428,588.8 430,589.2 432,589.6 434,590.1 436,590.6 438,591.2 440,591.8 442,592.5 444,593.1 446,593.8 448,594.4 450,595.1 452,595.7 454,596.3 456,596.9 458,597.4 460,598 462,598.5 464,598.9 466,599.3 468,599.7 470,600.1 472,600.4 474,600.6 476,600.8 478,601 480,601.1 482,601.2 484,601.2 486,601.2 488,601.1 490,601 492,600.8 494,600.5 496,600.2 498,599.9 500,599.5 502,599 504,598.5 506,598 508,597.5 510,596.9 512,596.4 514,595.9 516,595.5 518,595.1 520,594.8 522,594.5 524,594.3 526,594.2 528,594.2 530,594.3 532,594.5 534,594.8 536,595.3 538,596 540,596.8 542,597.9 544,599.1 546,600.6 548,602.3 550,604.1 552,606.1 554,608.3 556,610.6 558,613.1 560,615.6 562,618.3 564,621 566,623.7 568,626.4 570,629.1 572,631.7 574,634.3 576,636.8 578,639.3 580,641.8 582,644.1 584,646.4 586,648.7 588,650.8 590,652.9 592,654.9 594,656.8 596,658.5 598,660.2 600,661.7 602,663.1 604,664.4 606,665.6 608,666.7 610,667.8 612,668.8 614,669.8 616,670.9 618,671.9 620,672.9 622,673.9 624,674.9 626,675.8 628,676.6 630,677.4 632,678.1 634,678.9 636,679.6 638,680.3 640,681 642,681.7 644,682.5 646,683.3 648,684.1 650,684.9 652,685.8 654,686.6 656,687.5 658,688.4 660,689.2 662,690 664,690.7 666,691.4 668,692 670,692.6 672,693.1 674,693.6 676,694.1 678,694.5 680,695 682,695.4 684,695.8 686,696.2 688,696.6 690,697 692,697.4 694,697.8 696,698.2 698,698.6 700,699.1 702,699.5 704,699.9 706,700.3 708,700.7 710,701 712,701.4 714,701.8 716,702.1 718,702.4 720,702.8 722,703.1 724,703.4 726,703.7 728,703.9 730,704.2 732,704.5 734,704.7 736,705 738,705.2 740,705.5 742,705.7 744,705.9 746,706.1 748,706.3 750,706.5 752,706.7 754,706.9 756,707.1 758,707.3 760,707.4 762,707.6 764,707.8 766,707.9 768,708.1 770,708.2 772,708.3 774,708.5 776,708.6 778,708.8 780,708.9 782,709 784,709.1 786,709.3 788,709.4 788.2,709.4"/>
<path class="d" stroke="#000" stroke-dasharray="22.8 22.1" stroke-dashoffset="35.48" d="M94,-521.2 95.7,-490.1 97.3,-452.7 99,-409.9 100.6,-362.9 102.3,-304.3 103.9,-234.1 105.6,-164.7 107.2,-108.2 108.9,-67.7 110.5,-34.3 112.2,-1.8 113.8,35.7 115.5,81.1 117.2,131.4 118.8,184.5 120.5,237.9 122.1,294.6 123.8,354.8 125.4,411.8 127.1,459.4 128.7,497.7 130.4,531.4 132,561.3 133.7,588 135.3,613.6 137,637.7 138.6,658 140.3,671.8 142,680.1 143.6,685.4 145.3,688.1 146.9,690.3 148.6,693.6 150.2,697.5 151.9,701.2 153.5,704.3 155.2,706.6 156.8,708.5 158.5,710.3 160.1,712.2 161.8,714.3 163.4,716.4 165.1,718.4 166.8,720.1 168.4,721.6 170.1,722.9 171.7,724.2 173.4,725.3 175,726.2 176.7,727.1 178.3,728 180,728.8 181.6,729.7 183.3,730.6 184.9,731.5 186.6,732.3 188.3,733.1 189.9,733.8 191.6,734.4 193.2,735.1 194.9,735.8 196.5,736.6 198.2,737.3 199.8,737.8 201.5,738 203.1,738.2 204.8,738.4 206.4,738.6 208.1,738.8 209.8,739 211.4,739.2 213.1,739.4 214.7,739.5 216.4,739.6 218,739.7 219.7,739.8 221.3,739.9 223,740 224.6,740.1 226.3,740.2 227.9,740.1 229.6,739.8 231.2,739.4 232.9,739.1 234.6,738.9 236.2,738.6 237.9,738.3 239.5,738.1 241.2,737.8 242.8,737.6 244.5,737.3 246.1,737 247.8,736.8 249.4,736.5 251.1,736.2 252.7,735.9 254.4,735.4 256.1,734.8 257.7,734.1 259.4,733.4 261,732.8 262.7,732.2 264.3,731.6 266,730.9 267.6,730.3 269.3,729.7 270.9,729.1 272.6,728.4 274.2,727.8 275.9,727.2 277.5,726.6 279.2,726 280.9,725.3 282.5,724.7 284.2,724 285.8,723.3 287.5,722.5 289.1,721.8 290.8,721 292.4,720.2 294.1,719.4 295.7,718.7 297.4,717.9 299,717.1 300.7,716.4 302.4,715.6 304,714.8 305.7,714.1 307.3,713.3 309,712.5 310.6,711.8 312.3,711 313.9,710.2 315.6,709.5 317.2,708.7 318.9,707.9 320.5,707.1 322.2,706.3 323.8,705.5 325.5,704.7 327.2,703.8 328.8,702.9 330.5,701.9 332.1,701 333.8,700.1 335.4,699.1 337.1,698.2 338.7,697.3 340.4,696.4 342,695.5 343.7,694.5 345.3,693.6 347,692.7 348.6,691.8 350.3,690.9 352,689.9 353.6,689 355.3,688.1 356.9,687.2 358.6,686.3 360.2,685.3 361.9,684.3 363.5,683.3 365.2,682.3 366.8,681.1 368.5,679.9 370.1,678.6 371.8,677.4 373.5,676.2 375.1,674.9 376.8,673.7 378.4,672.5 380.1,671.3 381.7,670 383.4,668.8 385,667.6 386.7,666.4 388.3,665.2 390,663.9 391.6,662.7 393.3,661.5 394.9,660.3 396.6,659 398.3,657.8 399.9,656.6 401.6,655.4 403.2,654.2 404.9,653.1 406.5,651.9 408.2,650.7 409.8,649.5 411.5,648.3 413.1,647.1 414.8,645.9 416.4,644.7 418.1,643.6 419.8,642.4 421.4,641.2 423.1,640 424.7,638.8 426.4,637.6 428,636.4 429.7,635.1 431.3,633.9 433,632.7 434.6,631.4 436.3,630.2 437.9,628.9 439.6,627.7 441.2,626.4 442.9,625.2 444.6,624 446.2,623 447.9,621.9 449.5,621 451.2,620.1 452.8,619.3 454.5,618.6 456.1,617.9 457.8,617.2 459.4,616.6 461.1,616.1 462.7,615.6 464.4,615.1 466.1,614.7 467.7,614.2 469.4,613.9 471,613.7 472.7,613.7 474.3,613.7 476,613.7 477.6,613.7 479.3,613.8 480.9,614.1 482.6,614.5 484.2,614.9 485.9,615.1 487.6,615.4 489.2,615.6 490.9,616 492.5,616.8 494.2,618 495.8,619.5 497.5,620.8 499.1,622.1 500.8,623.5 502.4,624.8 504.1,626.2 505.7,627.6 507.4,628.9 509,630.3 510.7,631.7 512.4,633.2 514,634.7 515.7,636.2 517.3,637.7 519,639.2 520.6,640.7 522.3,642.2 523.9,643.6 525.6,645 527.2,646.4 528.9,647.8 530.5,649.1 532.2,650.4 533.8,651.7 535.5,653 537.2,654.2 538.8,655.5 540.5,656.8 542.1,658.1 543.8,659.4 545.4,660.7 547.1,662 548.7,663.3 550.4,664.5 552,665.7 553.7,666.9 555.3,668 557,669.1 558.7,670.2 560.3,671.2 562,672.3 563.6,673.3 565.3,674.4 566.9,675.4 568.6,676.5 570.2,677.6 571.9,678.7 573.5,679.8 575.2,681 576.8,682.3 578.5,683.6 580.1,684.9 581.8,686.3 583.5,687.9 585.1,689.8 586.8,692 588.4,694.3 590.1,696.6 591.7,698.8 593.4,701.1 595,703.4 596.7,705.6 598.3,707.9 600,710.2 601.6,712.5 603.3,714.8 605,717 606.6,719.2 608.3,721.4 609.9,723.6 611.6,725.8 613.2,728 614.9,730.2 616.5,732.2 618.2,734.3 619.8,736.4 621.5,738.3 623.1,739.8 624.8,740.8 626.5,741.6 628.1,742.3 629.8,743.1 631.4,743.9 633.1,744.8 634.7,745.6 636.4,746.4 638,747.3 639.7,748.1 641.3,748.9 643,749.8 644.6,750.6 646.3,751.4 647.9,752.2 649.6,753.1 651.3,753.9 652.9,754.7 654.6,755.6 656.2,756.3 657.9,757 659.5,757.7 661.2,758.4 662.8,759 664.5,759.7 666.1,760.4 667.8,761.1 669.4,761.6 671.1,762 672.8,762.4 674.4,762.7 676.1,763 677.7,763.3 679.4,763.6 681,764 682.7,764.3 684.3,764.6 686,765 687.6,765.3 689.3,765.6 690.9,765.9 692.6,766.1 694.2,766.4 695.9,766.6 697.6,766.8 699.2,767.1 700.9,767.3 702.5,767.5 704.2,767.7 705.8,768 707.5,768.2 709.1,768.4 710.8,768.6 712.4,768.8 714.1,769 715.7,769.2 717.4,769.4 719.1,769.6 720.7,769.7 722.4,769.9 724,770.1 725.7,770.3 727.3,770.4 729,770.6 730.6,770.8 732.3,770.9 733.9,771.1 735.6,771.2 737.2,771.3 738.9,771.4 740.5,771.5 742.2,771.6 743.9,771.7 745.5,771.8 747.2,771.9 748.8,772 750.5,772.1 752.1,772.3 753.8,772.4 755.4,772.5 757.1,772.6 758.7,772.7 760.4,772.8 762,772.9 763.7,773 765.4,773.1 767,773.2 768.7,773.3 770.3,773.4 772,773.5 773.6,773.6 775.3,773.7 776.9,773.7 778.6,773.8 780.2,773.9 781.9,774 783.5,774.1 785.2,774.2 786.8,774.3 788.5,774.3"/>
<path class="d" stroke="#ff00ff" stroke-dasharray="22.8 22.1" stroke-dashoffset="35.81" d="M94,461.7 95.7,469 97.3,476.6 99,484.5 100.6,492.7 102.3,501.9 103.9,512 105.6,521.4 107.2,528.6 108.9,533.2 110.5,536.8 112.2,540.3 113.8,544.7 115.5,551.4 117.2,559.7 118.8,567.9 120.5,574.1 122.1,578.2 123.8,581.5 125.4,584.4 127.1,587.5 128.7,590.6 130.4,593.6 132,596.6 133.7,600 135.3,604 137,608.4 138.6,612.8 140.3,616.8 142,620.1 143.6,623.2 145.3,626.7 146.9,629.6 148.6,631.5 150.2,632.9 151.9,634.3 153.5,635.9 155.2,638 156.8,640.4 158.5,643 160.1,645.5 161.8,648.1 163.4,650.9 165.1,653.5 166.8,655.5 168.4,656.9 170.1,657.9 171.7,659 173.4,660.3 175,662.1 176.7,664.4 178.3,666.8 180,668.9 181.6,670.8 183.3,672.6 184.9,674.3 186.6,675.9 188.3,677.3 189.9,678.6 191.6,679.9 193.2,681.1 194.9,682.4 196.5,683.7 198.2,684.9 199.8,686.2 201.5,687.4 203.1,688.6 204.8,689.8 206.4,690.9 208.1,692 209.8,693 211.4,694 213.1,694.9 214.7,695.9 216.4,696.8 218,697.6 219.7,698.5 221.3,699.4 223,700.3 224.6,701.1 226.3,702 227.9,702.8 229.6,703.6 231.2,704.3 232.9,704.9 234.6,705.4 236.2,705.8 237.9,706.2 239.5,706.5 241.2,706.9 242.8,707.4 244.5,707.8 246.1,708.2 247.8,708.6 249.4,708.9 251.1,709.3 252.7,709.7 254.4,710.1 256.1,710.5 257.7,710.9 259.4,711.3 261,711.7 262.7,712.2 264.3,712.7 266,713.2 267.6,713.7 269.3,714.2 270.9,714.7 272.6,715.2 274.2,715.6 275.9,716.1 277.5,716.6 279.2,717.1 280.9,717.6 282.5,718.1 284.2,718.6 285.8,718.9 287.5,719.2 289.1,719.5 290.8,719.7 292.4,720 294.1,720.3 295.7,720.6 297.4,720.8 299,721 300.7,721.2 302.4,721.3 304,721.4 305.7,721.6 307.3,722 309,722.5 310.6,722.9 312.3,723.1 313.9,723.1 315.6,723 317.2,723 318.9,722.9 320.5,722.9 322.2,722.9 323.8,722.9 325.5,722.8 327.2,722.8 328.8,722.7 330.5,722.6 332.1,722.5 333.8,722.3 335.4,722.1 337.1,721.9 338.7,721.6 340.4,721.2 342,720.8 343.7,720.4 345.3,719.8 347,718.9 348.6,717.7 350.3,716.3 352,715 353.6,713.7 355.3,712.4 356.9,711.1 358.6,709.6 360.2,708 361.9,706.3 363.5,704.5 365.2,702.5 366.8,700.5 368.5,698.3 370.1,696 371.8,693.6 373.5,691.2 375.1,688.6 376.8,686 378.4,683.4 380.1,680.7 381.7,678 383.4,675.2 385,672.3 386.7,669.3 388.3,666.2 390,663 391.6,659.8 393.3,656.6 394.9,653.4 396.6,650.3 398.3,647.4 399.9,644.8 401.6,642.4 403.2,640.1 404.9,637.8 406.5,635.4 408.2,633 409.8,630.8 411.5,628.8 413.1,627.1 414.8,625.5 416.4,624 418.1,622.6 419.8,621.1 421.4,619.6 423.1,618.3 424.7,617.8 426.4,617.7 428,617.7 429.7,617.6 431.3,617.6 433,618 434.6,618.9 436.3,620.1 437.9,621.4 439.6,622.8 441.2,624.5 442.9,626.4 444.6,628.4 446.2,630.7 447.9,633.2 449.5,635.9 451.2,638.6 452.8,641.4 454.5,644.3 456.1,647.3 457.8,650.1 459.4,652.9 461.1,655.6 462.7,658.2 464.4,660.7 466.1,663.1 467.7,665.4 469.4,667.6 471,669.7 472.7,671.8 474.3,673.9 476,675.7 477.6,677.1 479.3,678.1 480.9,678.9 482.6,679.7 484.2,680.4 485.9,681.2 487.6,682.1 489.2,682.7 490.9,683 492.5,683 494.2,683 495.8,683 497.5,683 499.1,682.6 500.8,681.6 502.4,680.3 504.1,678.9 505.7,677.3 507.4,675.3 509,673.1 510.7,670.7 512.4,668.2 514,665.3 515.7,662.3 517.3,659.1 519,655.9 520.6,652.5 522.3,649 523.9,645.4 525.6,641.8 527.2,638 528.9,634.2 530.5,630.6 532.2,627.1 533.8,623.5 535.5,620.2 537.2,617.6 538.8,615.2 540.5,612.9 542.1,611.2 543.8,610.5 545.4,610.7 547.1,611.2 548.7,612.1 550.4,613.1 552,615.2 553.7,618.8 555.3,623.2 557,627.7 558.7,632.4 560.3,637.6 562,643.3 563.6,649.2 565.3,655.6 566.9,662.6 568.6,669.8 570.2,676.6 571.9,683.2 573.5,689.7 575.2,696 576.8,702 578.5,707.8 580.1,713.4 581.8,718.7 583.5,723.7 585.1,728.3 586.8,732.7 588.4,736.9 590.1,740.6 591.7,744.1 593.4,747.4 595,750.4 596.7,753.1 598.3,755.6 600,757.9 601.6,760 603.3,761.9 605,763.7 606.6,765.4 608.3,766.9 609.9,768.2 611.6,769.3 613.2,770.2 614.9,771 616.5,772 618.2,773 619.8,774.2 621.5,775.3 623.1,776.1 624.8,776.6 626.5,777 628.1,777.4 629.8,777.8 631.4,778.2 633.1,778.7 634.7,779.1 636.4,779.5 638,779.8 639.7,780.1 641.3,780.3 643,780.5 644.6,780.7 646.3,780.8 647.9,780.9 649.6,781 651.3,781.1 652.9,781.2 654.6,781.3 656.2,781.4 657.9,781.5 659.5,781.7 661.2,781.8 662.8,781.9 664.5,782 666.1,782.1 667.8,782.2 669.4,782.3 671.1,782.4 672.8,782.5 674.4,782.6 676.1,782.7 677.7,782.8 679.4,782.8 681,782.9 682.7,783 684.3,783 686,783.1 687.6,783.2 689.3,783.2 690.9,783.3 692.6,783.4 694.2,783.4 695.9,783.5 697.6,783.6 699.2,783.6 700.9,783.7 702.5,783.8 704.2,783.8 705.8,783.9 707.5,783.9 709.1,784 710.8,784 712.4,784 714.1,784.1 715.7,784.1 717.4,784.2 719.1,784.2 720.7,784.2 722.4,784.3 724,784.3 725.7,784.3 727.3,784.4 729,784.4 730.6,784.5 732.3,784.5 733.9,784.5 735.6,784.6 737.2,784.6 738.9,784.6 740.5,784.7 742.2,784.7 743.9,784.7 745.5,784.7 747.2,784.7 748.8,784.7 750.5,784.8 752.1,784.8 753.8,784.8 755.4,784.8 757.1,784.8 758.7,784.8 760.4,784.8 762,784.9 763.7,784.9 765.4,784.9 767,784.9 768.7,784.9 770.3,784.9 772,784.9 773.6,785 775.3,785 776.9,785 778.6,785 780.2,785 781.9,785 783.5,785 785.2,785 786.8,785 788.5,785"/>
</g>
<text class="t" x="86.6" y="797.3" text-anchor="end">0</text>
<text class="t" x="91" y="718.21" text-anchor="end">0.4</text>
<text class="t" x="91" y="639.13" text-anchor="end">0.8</text>
<text class="t" x="91" y="560.04" text-anchor="end">1.2</text>
<text class="t" x="91" y="480.95" text-anchor="end">1.6</text>
<text class="t" x="129.07" y="825" text-anchor="middle">450</text>
<text class="t" x="294.43" y="825" text-anchor="middle">500</text>
<text class="t" x="459.79" y="825" text-anchor="middle">550</text>
<text class="t" x="625.14" y="825" text-anchor="middle">600</text>
<text class="t" x="790.5" y="825" text-anchor="middle">650</text>
<text class="t m" x="792.5" y="797.3">0</text>
<text class="t m" x="792.5" y="639.13">5</text>
<text class="t m" x="792.5" y="489.65">10</text>
<text class="t m" x="789.3" y="452.4"><tspan dy="4.0">×</tspan><tspan dx="1.9" dy="-4.0">10</tspan><tspan dx="-4.6" dy="-19">4</tspan></text>
<text class="l" transform="translate(31.9,629) rotate(-90)" text-anchor="middle">Absorbance</text>
<text class="b" x="96.1" y="457.1" font-size="33.33">c</text>
</g>
<g id="panel-d">
<clipPath id="cpd"><rect x="917.4" y="469.35" width="694.8" height="317.05"/></clipPath>
<path class="g" d="M1050.9,469.85 V786.2 M1184.4,469.85 V786.2 M1317.9,469.85 V786.2 M1451.4,469.85 V786.2 M1584.9,469.85 V786.2"/>
<path class="g" d="M917.4,707.11 H1611.6 M917.4,628.03 H1611.6 M917.4,548.94 H1611.6"/>
<path class="ax" d="M1611.6,469.85 H917.4 V786.2 H1611.6"/>
<path class="ax" d="M1050.9,786.2 v-8 M1050.9,469.85 v8 M1184.4,786.2 v-8 M1184.4,469.85 v8 M1317.9,786.2 v-8 M1317.9,469.85 v8 M1451.4,786.2 v-8 M1451.4,469.85 v8 M1584.9,786.2 v-8 M1584.9,469.85 v8 M917.4,786.2 h8 M917.4,707.11 h8 M917.4,628.03 h8 M917.4,548.94 h8 M917.4,469.85 h8"/>
<path class="am" d="M1611.6,468.85 V787.2 M1611.6,786.2 h-8.2 M1611.6,707.11 h-8.2 M1611.6,628.03 h-8.2 M1611.6,548.94 h-8.2 M1611.6,469.85 h-8.2"/>
<g clip-path="url(#cpd)">
<path class="d" stroke="#00ff00" d="M917.7,632.8 919.7,633.2 921.7,633.7 923.7,634.1 925.7,634.6 927.7,635.1 929.7,635.5 931.7,636 933.7,636.4 935.7,636.9 937.7,637.4 939.7,637.9 941.7,638.4 943.7,638.9 945.7,639.4 947.7,639.9 949.7,640.4 951.7,640.9 953.7,641.4 955.7,641.9 957.7,642.4 959.7,642.9 961.7,643.4 963.7,643.9 965.7,644.5 967.7,645 969.7,645.5 971.7,646 973.7,646.5 975.7,647 977.7,647.5 979.7,648 981.7,648.5 983.7,648.9 985.7,649.4 987.7,649.9 989.7,650.4 991.7,650.9 993.7,651.3 995.7,651.8 997.7,652.3 999.7,652.7 1001.7,653.2 1003.7,653.6 1005.7,654 1007.7,654.5 1009.7,654.9 1011.7,655.3 1013.7,655.7 1015.7,656 1017.7,656.4 1019.7,656.8 1021.7,657.1 1023.7,657.4 1025.7,657.8 1027.7,658.1 1029.7,658.4 1031.7,658.7 1033.7,659 1035.7,659.3 1037.7,659.6 1039.7,659.8 1041.7,660.1 1043.7,660.3 1045.7,660.6 1047.7,660.8 1049.7,661.1 1051.7,661.3 1053.7,661.6 1055.7,661.8 1057.7,662 1059.7,662.2 1061.7,662.5 1063.7,662.7 1065.7,662.9 1067.7,663.1 1069.7,663.3 1071.7,663.6 1073.7,663.8 1075.7,664 1077.7,664.2 1079.7,664.4 1081.7,664.6 1083.7,664.8 1085.7,664.9 1087.7,665.1 1089.7,665.3 1091.7,665.4 1093.7,665.6 1095.7,665.8 1097.7,665.9 1099.7,666 1101.7,666.2 1103.7,666.3 1105.7,666.4 1107.7,666.5 1109.7,666.6 1111.7,666.6 1113.7,666.7 1115.7,666.8 1117.7,666.8 1119.7,666.8 1121.7,666.8 1123.7,666.8 1125.7,666.8 1127.7,666.8 1129.7,666.8 1131.7,666.8 1133.7,666.8 1135.7,666.8 1137.7,666.7 1139.7,666.7 1141.7,666.6 1143.7,666.6 1145.7,666.6 1147.7,666.5 1149.7,666.5 1151.7,666.4 1153.7,666.3 1155.7,666.3 1157.7,666.2 1159.7,666.1 1161.7,666.1 1163.7,666 1165.7,665.9 1167.7,665.8 1169.7,665.8 1171.7,665.7 1173.7,665.6 1175.7,665.5 1177.7,665.4 1179.7,665.4 1181.7,665.3 1183.7,665.3 1185.7,665.2 1187.7,665.2 1189.7,665.2 1191.7,665.2 1193.7,665.2 1195.7,665.2 1197.7,665.3 1199.7,665.3 1201.7,665.4 1203.7,665.5 1205.7,665.6 1207.7,665.7 1209.7,665.9 1211.7,666 1213.7,666.2 1215.7,666.4 1217.7,666.6 1219.7,666.9 1221.7,667.1 1223.7,667.4 1225.7,667.6 1227.7,667.9 1229.7,668.2 1231.7,668.4 1233.7,668.7 1235.7,669 1237.7,669.2 1239.7,669.4 1241.7,669.7 1243.7,669.9 1245.7,670.1 1247.7,670.3 1249.7,670.5 1251.7,670.6 1253.7,670.8 1255.7,671 1257.7,671.1 1259.7,671.2 1261.7,671.4 1263.7,671.5 1265.7,671.6 1267.7,671.8 1269.7,671.9 1271.7,672 1273.7,672.1 1275.7,672.2 1277.7,672.3 1279.7,672.4 1281.7,672.5 1283.7,672.6 1285.7,672.7 1287.7,672.8 1289.7,672.9 1291.7,672.9 1293.7,673 1295.7,673.1 1297.7,673.2 1299.7,673.2 1301.7,673.3 1303.7,673.3 1305.7,673.4 1307.7,673.4 1309.7,673.5 1311.7,673.5 1313.7,673.5 1315.7,673.5 1317.7,673.5 1319.7,673.5 1321.7,673.5 1323.7,673.5 1325.7,673.5 1327.7,673.5 1329.7,673.4 1331.7,673.4 1333.7,673.4 1335.7,673.4 1337.7,673.4 1339.7,673.4 1341.7,673.4 1343.7,673.4 1345.7,673.4 1347.7,673.4 1349.7,673.4 1351.7,673.4 1353.7,673.4 1355.7,673.4 1357.7,673.4 1359.7,673.3 1361.7,673.3 1363.7,673.2 1365.7,673.1 1367.7,673 1369.7,672.8 1371.7,672.7 1373.7,672.5 1375.7,672.4 1377.7,672.2 1379.7,672 1381.7,671.9 1383.7,671.8 1385.7,671.6 1387.7,671.5 1389.7,671.4 1391.7,671.4 1393.7,671.3 1395.7,671.3 1397.7,671.3 1399.7,671.3 1401.7,671.3 1403.7,671.3 1405.7,671.3 1407.7,671.3 1409.7,671.3 1411.7,671.4 1413.7,671.4 1415.7,671.4 1417.7,671.5 1419.7,671.5 1421.7,671.5 1423.7,671.5 1425.7,671.6 1427.7,671.6 1429.7,671.6 1431.7,671.6 1433.7,671.6 1435.7,671.7 1437.7,671.7 1439.7,671.7 1441.7,671.7 1443.7,671.7 1445.7,671.7 1447.7,671.7 1449.7,671.7 1451.7,671.7 1453.7,671.7 1455.7,671.7 1457.7,671.7 1459.7,671.7 1461.7,671.7 1463.7,671.7 1465.7,671.7 1467.7,671.7 1469.7,671.7 1471.7,671.7 1473.7,671.7 1475.7,671.7 1477.7,671.7 1479.7,671.7 1481.7,671.6 1483.7,671.6 1485.7,671.6 1487.7,671.6 1489.7,671.6 1491.7,671.6 1493.7,671.5 1495.7,671.5 1497.7,671.5 1499.7,671.5 1501.7,671.4 1503.7,671.4 1505.7,671.4 1507.7,671.4 1509.7,671.3 1511.7,671.3 1513.7,671.3 1515.7,671.3 1517.7,671.3 1519.7,671.2 1521.7,671.2 1523.7,671.2 1525.7,671.2 1527.7,671.1 1529.7,671.1 1531.7,671.1 1533.7,671.1 1535.7,671 1537.7,671 1539.7,671 1541.7,671 1543.7,670.9 1545.7,670.9 1547.7,670.9 1549.7,670.8 1551.7,670.8 1553.7,670.8 1555.7,670.7 1557.7,670.7 1559.7,670.7 1561.7,670.6 1563.7,670.6 1565.7,670.5 1567.7,670.5 1569.7,670.5 1571.7,670.4 1573.7,670.4 1575.7,670.3 1577.7,670.2 1579.7,670.2 1581.7,670.1 1583.7,670.1 1585.7,670 1587.7,669.9 1589.7,669.9 1591.7,669.8 1593.7,669.7 1595.7,669.7 1597.7,669.6 1599.7,669.5 1601.7,669.5 1603.7,669.4 1605.7,669.3 1607.7,669.3 1609.3,669.2"/>
<path class="d" stroke="#000" stroke-dasharray="22.8 22.1" stroke-dashoffset="0.2" d="M901.4,462.9 904,467.8 906.7,472.6 909.4,476.9 912.1,481.1 914.7,485.4 917.4,489.6 920.1,493.9 922.7,498.1 925.4,502.4 928.1,506.6 930.8,510.9 933.4,515.1 936.1,519.4 938.8,523.6 941.4,527.4 944.1,531 946.8,534.5 949.4,537.8 952.1,541.3 954.8,544.7 957.4,548.1 960.1,551.5 962.8,554.9 965.5,558.3 968.1,561.7 970.8,565.1 973.5,568.6 976.1,572 978.8,575.2 981.5,578.4 984.1,581.3 986.8,584.2 989.5,587.1 992.2,590 994.8,592.9 997.5,595.8 1000.2,598.7 1002.8,601.6 1005.5,604.5 1008.2,607.3 1010.8,610.2 1013.5,613.1 1016.2,616.1 1018.9,618.9 1021.5,621.5 1024.2,623.9 1026.9,626 1029.5,628 1032.2,630 1034.9,632.1 1037.5,634.1 1040.2,636.1 1042.9,638.2 1045.6,640.2 1048.2,642.2 1050.9,644.3 1053.6,646.4 1056.2,648.5 1058.9,650.6 1061.6,652.7 1064.2,654.8 1066.9,656.9 1069.6,659 1072.3,661 1074.9,662.7 1077.6,664.4 1080.3,666.1 1082.9,667.8 1085.6,669.5 1088.3,671.2 1091,672.9 1093.6,674.6 1096.3,676.3 1099,678 1101.6,679.7 1104.3,681.3 1107,683 1109.6,684.6 1112.3,686.2 1115,687.8 1117.6,689.3 1120.3,691 1123,693 1125.7,695 1128.3,697.5 1131,699 1133.7,699 1136.3,699 1139,699 1141.7,699 1144.3,699 1147,699.1 1149.7,699.1 1152.4,699.2 1155,698.8 1157.7,697.9 1160.4,696.4 1163,694.3 1165.7,692.6 1168.4,690.7 1171,688.5 1173.7,686.1 1176.4,683.5 1179.1,680.8 1181.7,678.1 1184.4,675.1 1187.1,670.3 1189.7,666.4 1192.4,665.1 1195.1,664.3 1197.8,663.3 1200.4,662.8 1203.1,662.8 1205.8,662.8 1208.4,663.1 1211.1,663.7 1213.8,665.1 1216.4,666.9 1219.1,668.8 1221.8,670.8 1224.4,672.7 1227.1,674.6 1229.8,676.6 1232.5,678.5 1235.1,680.5 1237.8,682.4 1240.5,684.4 1243.1,686.4 1245.8,688.3 1248.5,690.3 1251.2,692.2 1253.8,694.2 1256.5,696.2 1259.2,698 1261.8,699.6 1264.5,701.1 1267.2,702.7 1269.8,704.3 1272.5,705.8 1275.2,707.4 1277.8,708.9 1280.5,710.5 1283.2,711.9 1285.9,713.3 1288.5,714.5 1291.2,715.7 1293.9,717 1296.5,718.2 1299.2,719.5 1301.9,720.7 1304.5,721.7 1307.2,722.7 1309.9,723.5 1312.6,724.3 1315.2,725.2 1317.9,726 1320.6,726.8 1323.2,727.4 1325.9,727.7 1328.6,727.9 1331.2,728.2 1333.9,728.4 1336.6,728.7 1339.3,729 1341.9,729.2 1344.6,729.5 1347.3,729.7 1349.9,729.9 1352.6,730.1 1355.3,730.3 1357.9,730.5 1360.6,730.7 1363.3,731 1366,731.1 1368.6,731.3 1371.3,731.3 1374,731.3 1376.6,731.3 1379.3,731.3 1382,731.4 1384.7,731.4 1387.3,731.4 1390,731.4 1392.7,731.4 1395.3,731.4 1398,731.4 1400.7,731.4 1403.3,731.4 1406,731.4 1408.7,731.4 1411.3,731.4 1414,731.4 1416.7,731.4 1419.4,731.4 1422,731.4 1424.7,731.4 1427.4,731.4 1430,731.5 1432.7,731.5 1435.4,731.5 1438,731.5 1440.7,731.5 1443.4,731.5 1446.1,731.5 1448.7,731.5 1451.4,731.5 1454.1,731.5 1456.7,731.5 1459.4,731.6 1462.1,731.6 1464.8,731.6 1467.4,731.6 1470.1,731.5 1472.8,731.4 1475.4,731.4 1478.1,731.3 1480.8,731.2 1483.4,731.1 1486.1,731.1 1488.8,731 1491.4,730.9 1494.1,730.8 1496.8,730.8 1499.5,730.7 1502.1,730.6 1504.8,730.4 1507.5,730.2 1510.1,730.1 1512.8,729.9 1515.5,729.7 1518.2,729.6 1520.8,729.4 1523.5,729.2 1526.2,729.1 1528.8,728.9 1531.5,728.7 1534.2,728.6 1536.8,728.4 1539.5,728.3 1542.2,728.1 1544.8,727.9 1547.5,727.8 1550.2,727.6 1552.9,727.4 1555.5,727.3 1558.2,727.1 1560.9,727 1563.5,726.8 1566.2,726.6 1568.9,726.5 1571.5,726.3 1574.2,726.1 1576.9,726 1579.6,725.8 1582.2,725.7 1584.9,725.5 1587.6,725.3 1590.2,725.2 1592.9,725 1595.6,724.8 1598.2,724.7 1600.9,724.5 1603.6,724.3 1606.3,724.2 1608.9,724 1609.4,724"/>
<path class="d" stroke="#ff00ff" stroke-dasharray="22.8 22.1" stroke-dashoffset="11.86" d="M901.4,754.2 904,754.8 906.7,755.3 909.4,755.8 912.1,756.2 914.7,756.7 917.4,757.1 920.1,757.5 922.7,758 925.4,758.4 928.1,758.9 930.8,759.3 933.4,759.7 936.1,760.1 938.8,760.4 941.4,760.7 944.1,760.9 946.8,761.1 949.4,761.4 952.1,761.6 954.8,761.8 957.4,762 960.1,762.3 962.8,762.5 965.5,762.6 968.1,762.8 970.8,762.9 973.5,763.1 976.1,763.3 978.8,763.4 981.5,763.6 984.1,763.8 986.8,763.9 989.5,764 992.2,764.1 994.8,764.2 997.5,764.2 1000.2,764.3 1002.8,764.4 1005.5,764.4 1008.2,764.5 1010.8,764.6 1013.5,764.6 1016.2,764.6 1018.9,764.5 1021.5,764.4 1024.2,764.4 1026.9,764.3 1029.5,764.2 1032.2,764.2 1034.9,764.1 1037.5,764 1040.2,763.9 1042.9,763.7 1045.6,763.6 1048.2,763.4 1050.9,763.3 1053.6,763.1 1056.2,762.9 1058.9,762.8 1061.6,762.6 1064.2,762.5 1066.9,762.3 1069.6,762 1072.3,761.8 1074.9,761.6 1077.6,761.4 1080.3,761.1 1082.9,760.9 1085.6,760.7 1088.3,760.5 1091,760.2 1093.6,759.9 1096.3,759.6 1099,759.3 1101.6,759 1104.3,758.7 1107,758.4 1109.6,758 1112.3,757.7 1115,757.4 1117.6,757.1 1120.3,756.7 1123,756.4 1125.7,756.1 1128.3,755.7 1131,755.4 1133.7,755 1136.3,754.7 1139,754.3 1141.7,754 1144.3,753.5 1147,753.1 1149.7,752.6 1152.4,752 1155,751.5 1157.7,750.9 1160.4,750.4 1163,749.9 1165.7,749.3 1168.4,748.8 1171,748.2 1173.7,747.6 1176.4,747 1179.1,746.4 1181.7,745.8 1184.4,745.2 1187.1,744.6 1189.7,744 1192.4,743.4 1195.1,742.8 1197.8,742.3 1200.4,741.8 1203.1,741.3 1205.8,740.8 1208.4,740.3 1211.1,739.9 1213.8,739.4 1216.4,738.9 1219.1,738.4 1221.8,738 1224.4,737.5 1227.1,736.9 1229.8,736.4 1232.5,735.9 1235.1,735.3 1237.8,734.8 1240.5,734.3 1243.1,733.7 1245.8,733.2 1248.5,732.6 1251.2,732.2 1253.8,731.7 1256.5,731.3 1259.2,730.9 1261.8,730.5 1264.5,730 1267.2,729.6 1269.8,729.2 1272.5,728.8 1275.2,728.4 1277.8,728 1280.5,727.7 1283.2,727.4 1285.9,727 1288.5,726.7 1291.2,726.4 1293.9,726.1 1296.5,725.8 1299.2,725.5 1301.9,725.1 1304.5,724.6 1307.2,724 1309.9,723.1 1312.6,722.4 1315.2,722 1317.9,721.7 1320.6,721.2 1323.2,720.7 1325.9,720.4 1328.6,720.1 1331.2,719.8 1333.9,719.5 1336.6,719 1339.3,718.5 1341.9,718.2 1344.6,717.9 1347.3,717.6 1349.9,717.2 1352.6,716.9 1355.3,716.6 1357.9,716.3 1360.6,716 1363.3,715.5 1366,714.9 1368.6,714.3 1371.3,713.8 1374,713.2 1376.6,712.6 1379.3,712 1382,711.5 1384.7,711 1387.3,710.6 1390,710.2 1392.7,709.9 1395.3,709.5 1398,709.2 1400.7,708.8 1403.3,708.5 1406,708.1 1408.7,707.8 1411.3,707.4 1414,707 1416.7,706.6 1419.4,706.2 1422,705.8 1424.7,705.4 1427.4,705 1430,704.6 1432.7,704.1 1435.4,703.7 1438,703.4 1440.7,703.2 1443.4,703 1446.1,702.8 1448.7,702.7 1451.4,702.5 1454.1,702.4 1456.7,702.2 1459.4,702.1 1462.1,701.9 1464.8,701.7 1467.4,701.4 1470.1,701 1472.8,700.6 1475.4,700.2 1478.1,699.8 1480.8,699.5 1483.4,699.1 1486.1,698.7 1488.8,698.3 1491.4,698 1494.1,697.7 1496.8,697.5 1499.5,697.4 1502.1,697.2 1504.8,697 1507.5,696.8 1510.1,696.6 1512.8,696.4 1515.5,696.2 1518.2,696 1520.8,695.8 1523.5,695.6 1526.2,695.4 1528.8,695.2 1531.5,694.9 1534.2,694.7 1536.8,694.5 1539.5,694.3 1542.2,694 1544.8,693.8 1547.5,693.7 1550.2,693.5 1552.9,693.4 1555.5,693.2 1558.2,693 1560.9,692.9 1563.5,692.7 1566.2,692.6 1568.9,692.4 1571.5,692.2 1574.2,692.1 1576.9,691.9 1579.6,691.8 1582.2,691.6 1584.9,691.5 1587.6,691.3 1590.2,691.1 1592.9,691 1595.6,690.8 1598.2,690.7 1600.9,690.6 1603.6,690.5 1606.3,690.4 1608.9,690.3 1609.4,690.3"/>
</g>
<text class="t" x="910" y="797.3" text-anchor="end">0</text>
<text class="t" x="914.4" y="718.21" text-anchor="end">0.2</text>
<text class="t" x="914.4" y="639.13" text-anchor="end">0.4</text>
<text class="t" x="914.4" y="560.04" text-anchor="end">0.6</text>
<text class="t" x="914.4" y="480.95" text-anchor="end">0.8</text>
<text class="t" x="919.4" y="825" text-anchor="middle">650</text>
<text class="t" x="1052.9" y="825" text-anchor="middle">700</text>
<text class="t" x="1186.4" y="825" text-anchor="middle">750</text>
<text class="t" x="1319.9" y="825" text-anchor="middle">800</text>
<text class="t" x="1453.4" y="825" text-anchor="middle">850</text>
<text class="t" x="1586.9" y="825" text-anchor="middle">900</text>
<text class="t m" x="1619.8" y="797.3">0</text>
<text class="t m" x="1619.8" y="718.21">1000</text>
<text class="t m" x="1619.8" y="639.13">2000</text>
<text class="t m" x="1619.8" y="560.04">3000</text>
<text class="t m" x="1619.8" y="480.95">4000</text>
<text class="l m" transform="translate(1731.8,622.7) rotate(-90)" text-anchor="middle">Molar Extinction</text>
<text class="l m" transform="translate(1771.2,619.9) rotate(-90)" text-anchor="middle">Coefficient (cm<tspan dy="-12.5" font-size="23">-1</tspan><tspan dy="12.5">M</tspan><tspan dy="-12.5" font-size="23">-1</tspan><tspan dy="12.5">)</tspan></text>
<text class="b" x="918.3" y="456.8" font-size="36.67">d</text>
</g>
<g id="panel-e">
<clipPath id="cpe"><rect x="94" y="875.5" width="695.1" height="316.9"/></clipPath>
<path class="g" d="M127.07,876 V1192.2 M292.43,876 V1192.2 M457.79,876 V1192.2 M623.14,876 V1192.2"/>
<path class="g" d="M94,1113.15 H788.5 M94,1034.1 H788.5 M94,955.05 H788.5"/>
<path class="ax" d="M788.5,876 H94 V1192.2 H788.5"/>
<path class="ax" d="M127.07,1192.2 v-8 M127.07,876 v8 M292.43,1192.2 v-8 M292.43,876 v8 M457.79,1192.2 v-8 M457.79,876 v8 M623.14,1192.2 v-8 M623.14,876 v8 M94,1192.2 h8 M94,1113.15 h8 M94,1034.1 h8 M94,955.05 h8 M94,876 h8"/>
<path class="am" d="M788.5,875 V1193.2 M788.5,1192.2 h-8.2 M788.5,1034.1 h-8.2 M788.5,876 h-8.2"/>
<g clip-path="url(#cpe)">
<path class="d" stroke="#0000ff" d="M94,910.5 96,910.1 98,909.7 100,909.3 102,909 104,908.6 106,908.3 108,908 110,907.7 112,907.4 114,907.2 116,907 118,906.8 120,906.7 122,906.5 124,906.4 126,906.3 128,906.2 130,906.1 132,906 134,905.9 136,905.8 138,905.7 140,905.7 142,905.6 144,905.5 146,905.5 148,905.4 150,905.4 152,905.4 154,905.3 156,905.3 158,905.3 160,905.2 162,905.2 164,905.2 166,905.2 168,905.2 170,905.2 172,905.2 174,905.1 176,905.1 178,905.1 180,905.1 182,905.1 184,905.1 186,905.1 188,905.1 190,905.1 192,905.1 194,905.1 196,905.1 198,905.1 200,905.2 202,905.2 204,905.2 206,905.2 208,905.2 210,905.2 212,905.2 214,905.2 216,905.2 218,905.2 220,905.2 222,905.2 224,905.2 226,905.2 228,905.2 230,905.2 232,905.2 234,905.2 236,905.2 238,905.2 240,905.2 242,905.2 244,905.2 246,905.2 248,905.2 250,905.2 252,905.2 254,905.2 256,905.2 258,905.2 260,905.2 262,905.2 264,905.2 266,905.2 268,905.2 270,905.2 272,905.2 274,905.1 276,905.1 278,905.1 280,905.1 282,905 284,905 286,904.9 288,904.9 290,904.8 292,904.7 294,904.6 296,904.5 298,904.4 300,904.2 302,904.1 304,903.9 306,903.7 308,903.5 310,903.3 312,903.1 314,902.8 316,902.5 318,902.2 320,901.9 322,901.5 324,901.2 326,900.8 328,900.4 330,900 332,899.5 334,899.1 336,898.6 338,898.1 340,897.6 342,897.1 344,896.6 346,896 348,895.5 350,894.9 352,894.4 354,893.8 356,893.3 358,892.7 360,892.2 362,891.7 364,891.2 366,890.6 368,890.1 370,889.7 372,889.2 374,888.7 376,888.3 378,887.9 380,887.5 382,887.1 384,886.7 386,886.3 388,886 390,885.6 392,885.3 394,885 396,884.7 398,884.4 400,884.2 402,883.9 404,883.7 406,883.5 408,883.3 410,883.1 412,882.9 414,882.7 416,882.6 418,882.4 420,882.3 422,882.2 424,882.2 426,882.2 428,882.2 430,882.3 432,882.5 434,882.7 436,882.9 438,883.2 440,883.4 442,883.7 444,883.9 446,884.2 448,884.4 450,884.6 452,884.8 454,885 456,885.1 458,885.2 460,885.3 462,885.4 464,885.5 466,885.5 468,885.5 470,885.5 472,885.5 474,885.4 476,885.4 478,885.3 480,885.2 482,885 484,884.9 486,884.7 488,884.6 490,884.4 492,884.2 494,883.9 496,883.7 498,883.4 500,883.1 502,882.8 504,882.5 506,882.1 508,881.8 510,881.5 512,881.1 514,880.8 516,880.5 518,880.2 520,879.9 522,879.7 524,879.5 526,879.4 528,879.2 530,879.2 532,879.2 534,879.3 536,879.4 538,879.7 540,880 542,880.5 544,881 546,881.7 548,882.5 550,883.4 552,884.4 554,885.5 556,886.7 558,888 560,889.4 562,890.8 564,892.4 566,894.1 568,895.9 570,897.9 572,900 574,902.3 576,904.8 578,907.4 580,910.1 582,912.8 584,915.7 586,918.6 588,921.5 590,924.4 592,927.4 594,930.3 596,933.3 598,936.3 600,939.4 602,942.4 604,945.4 606,948.4 608,951.4 610,954.4 612,957.3 614,960.2 616,963.1 618,965.9 620,968.7 622,971.5 624,974.2 626,976.8 628,979.4 630,981.9 632,984.3 634,986.6 636,988.9 638,991.1 640,993.2 642,995.2 644,997.2 646,999.2 648,1001.1 650,1003 652,1004.9 654,1006.7 656,1008.5 658,1010.3 660,1012 662,1013.7 664,1015.3 666,1016.9 668,1018.4 670,1019.8 672,1021.2 674,1022.6 676,1023.9 678,1025.2 680,1026.4 682,1027.6 684,1028.8 686,1029.9 688,1031 690,1032 692,1032.9 694,1033.9 696,1034.8 698,1035.7 700,1036.5 702,1037.4 704,1038.2 706,1039 708,1039.8 710,1040.6 712,1041.3 714,1042.1 716,1042.8 718,1043.5 720,1044.2 722,1044.9 724,1045.5 726,1046.2 728,1046.8 730,1047.4 732,1048 734,1048.6 736,1049.2 738,1049.7 740,1050.3 742,1050.8 744,1051.3 746,1051.8 748,1052.3 750,1052.8 752,1053.3 754,1053.8 756,1054.2 758,1054.7 760,1055.1 762,1055.6 764,1056 766,1056.4 768,1056.8 770,1057.2 772,1057.6 774,1057.9 776,1058.3 778,1058.6 780,1058.9 782,1059.3 784,1059.6 786,1059.9 788,1060.2 788.2,1060.2"/>
<path class="d" stroke="#000" stroke-dasharray="22.8 22.1" stroke-dashoffset="11.88" d="M94,-114.6 95.7,-83.5 97.3,-46.1 99,-3.4 100.6,43.6 102.3,102.2 103.9,172.3 105.6,241.7 107.2,298.2 108.9,338.7 110.5,372.1 112.2,404.6 113.8,442.1 115.5,487.4 117.2,537.7 118.8,590.8 120.5,644.2 122.1,700.9 123.8,761 125.4,818 127.1,865.6 128.7,903.8 130.4,937.5 132,967.4 133.7,994.1 135.3,1019.6 137,1043.8 138.6,1064 140.3,1077.8 142,1086.2 143.6,1091.5 145.3,1094.1 146.9,1096.4 148.6,1099.7 150.2,1103.5 151.9,1107.3 153.5,1110.3 155.2,1112.6 156.8,1114.6 158.5,1116.4 160.1,1118.2 161.8,1120.3 163.4,1122.4 165.1,1124.4 166.8,1126.1 168.4,1127.6 170.1,1129 171.7,1130.2 173.4,1131.3 175,1132.3 176.7,1133.1 178.3,1134 180,1134.8 181.6,1135.7 183.3,1136.7 184.9,1137.5 186.6,1138.4 188.3,1139.1 189.9,1139.8 191.6,1140.4 193.2,1141.1 194.9,1141.9 196.5,1142.6 198.2,1143.3 199.8,1143.8 201.5,1144.1 203.1,1144.3 204.8,1144.4 206.4,1144.6 208.1,1144.8 209.8,1145.1 211.4,1145.3 213.1,1145.4 214.7,1145.6 216.4,1145.7 218,1145.8 219.7,1145.9 221.3,1146 223,1146.1 224.6,1146.2 226.3,1146.2 227.9,1146.1 229.6,1145.8 231.2,1145.5 232.9,1145.1 234.6,1144.9 236.2,1144.6 237.9,1144.4 239.5,1144.1 241.2,1143.8 242.8,1143.6 244.5,1143.3 246.1,1143.1 247.8,1142.8 249.4,1142.5 251.1,1142.3 252.7,1141.9 254.4,1141.4 256.1,1140.8 257.7,1140.1 259.4,1139.4 261,1138.8 262.7,1138.2 264.3,1137.6 266,1137 267.6,1136.3 269.3,1135.7 270.9,1135.1 272.6,1134.5 274.2,1133.9 275.9,1133.2 277.5,1132.6 279.2,1132 280.9,1131.3 282.5,1130.7 284.2,1130 285.8,1129.3 287.5,1128.6 289.1,1127.8 290.8,1127 292.4,1126.2 294.1,1125.5 295.7,1124.7 297.4,1123.9 299,1123.2 300.7,1122.4 302.4,1121.6 304,1120.9 305.7,1120.1 307.3,1119.3 309,1118.6 310.6,1117.8 312.3,1117 313.9,1116.3 315.6,1115.5 317.2,1114.7 318.9,1114 320.5,1113.2 322.2,1112.4 323.8,1111.5 325.5,1110.7 327.2,1109.8 328.8,1108.9 330.5,1108 332.1,1107 333.8,1106.1 335.4,1105.2 337.1,1104.3 338.7,1103.3 340.4,1102.4 342,1101.5 343.7,1100.6 345.3,1099.7 347,1098.8 348.6,1097.8 350.3,1096.9 352,1096 353.6,1095.1 355.3,1094.2 356.9,1093.3 358.6,1092.3 360.2,1091.4 361.9,1090.4 363.5,1089.4 365.2,1088.3 366.8,1087.2 368.5,1085.9 370.1,1084.7 371.8,1083.4 373.5,1082.2 375.1,1081 376.8,1079.8 378.4,1078.5 380.1,1077.3 381.7,1076.1 383.4,1074.9 385,1073.7 386.7,1072.4 388.3,1071.2 390,1070 391.6,1068.8 393.3,1067.5 394.9,1066.3 396.6,1065.1 398.3,1063.9 399.9,1062.7 401.6,1061.5 403.2,1060.3 404.9,1059.1 406.5,1057.9 408.2,1056.7 409.8,1055.6 411.5,1054.4 413.1,1053.2 414.8,1052 416.4,1050.8 418.1,1049.6 419.8,1048.4 421.4,1047.3 423.1,1046.1 424.7,1044.9 426.4,1043.7 428,1042.4 429.7,1041.2 431.3,1040 433,1038.7 434.6,1037.5 436.3,1036.3 437.9,1035 439.6,1033.8 441.2,1032.5 442.9,1031.2 444.6,1030.1 446.2,1029 447.9,1028 449.5,1027.1 451.2,1026.2 452.8,1025.4 454.5,1024.7 456.1,1024 457.8,1023.3 459.4,1022.7 461.1,1022.2 462.7,1021.7 464.4,1021.2 466.1,1020.8 467.7,1020.3 469.4,1020 471,1019.8 472.7,1019.8 474.3,1019.8 476,1019.7 477.6,1019.7 479.3,1019.9 480.9,1020.2 482.6,1020.6 484.2,1020.9 485.9,1021.2 487.6,1021.4 489.2,1021.7 490.9,1022.1 492.5,1022.9 494.2,1024.1 495.8,1025.5 497.5,1026.9 499.1,1028.2 500.8,1029.5 502.4,1030.9 504.1,1032.3 505.7,1033.7 507.4,1035 509,1036.4 510.7,1037.8 512.4,1039.3 514,1040.8 515.7,1042.3 517.3,1043.8 519,1045.2 520.6,1046.7 522.3,1048.2 523.9,1049.7 525.6,1051.1 527.2,1052.5 528.9,1053.8 530.5,1055.2 532.2,1056.5 533.8,1057.7 535.5,1059 537.2,1060.3 538.8,1061.6 540.5,1062.9 542.1,1064.1 543.8,1065.4 545.4,1066.7 547.1,1068 548.7,1069.3 550.4,1070.6 552,1071.8 553.7,1072.9 555.3,1074 557,1075.1 558.7,1076.2 560.3,1077.3 562,1078.3 563.6,1079.4 565.3,1080.4 566.9,1081.5 568.6,1082.5 570.2,1083.6 571.9,1084.8 573.5,1085.9 575.2,1087.1 576.8,1088.3 578.5,1089.6 580.1,1090.9 581.8,1092.3 583.5,1093.9 585.1,1095.8 586.8,1098 588.4,1100.4 590.1,1102.6 591.7,1104.9 593.4,1107.1 595,1109.4 596.7,1111.7 598.3,1114 600,1116.3 601.6,1118.6 603.3,1120.8 605,1123 606.6,1125.2 608.3,1127.4 609.9,1129.6 611.6,1131.8 613.2,1134 614.9,1136.2 616.5,1138.3 618.2,1140.4 619.8,1142.5 621.5,1144.3 623.1,1145.8 624.8,1146.8 626.5,1147.6 628.1,1148.4 629.8,1149.1 631.4,1150 633.1,1150.8 634.7,1151.6 636.4,1152.5 638,1153.3 639.7,1154.1 641.3,1155 643,1155.8 644.6,1156.6 646.3,1157.4 647.9,1158.3 649.6,1159.1 651.3,1159.9 652.9,1160.7 654.6,1161.6 656.2,1162.3 657.9,1163.1 659.5,1163.7 661.2,1164.4 662.8,1165 664.5,1165.7 666.1,1166.5 667.8,1167.1 669.4,1167.7 671.1,1168 672.8,1168.4 674.4,1168.7 676.1,1169 677.7,1169.3 679.4,1169.6 681,1170 682.7,1170.3 684.3,1170.6 686,1171 687.6,1171.3 689.3,1171.6 690.9,1171.9 692.6,1172.1 694.2,1172.4 695.9,1172.6 697.6,1172.8 699.2,1173.1 700.9,1173.3 702.5,1173.5 704.2,1173.8 705.8,1174 707.5,1174.2 709.1,1174.4 710.8,1174.6 712.4,1174.8 714.1,1175 715.7,1175.2 717.4,1175.4 719.1,1175.6 720.7,1175.7 722.4,1175.9 724,1176.1 725.7,1176.3 727.3,1176.4 729,1176.6 730.6,1176.8 732.3,1176.9 733.9,1177.1 735.6,1177.2 737.2,1177.4 738.9,1177.5 740.5,1177.5 742.2,1177.6 743.9,1177.7 745.5,1177.9 747.2,1178 748.8,1178.1 750.5,1178.2 752.1,1178.3 753.8,1178.4 755.4,1178.5 757.1,1178.6 758.7,1178.7 760.4,1178.8 762,1178.9 763.7,1179 765.4,1179.1 767,1179.2 768.7,1179.3 770.3,1179.4 772,1179.5 773.6,1179.6 775.3,1179.7 776.9,1179.8 778.6,1179.8 780.2,1179.9 781.9,1180 783.5,1180.1 785.2,1180.2 786.8,1180.3 788.5,1180.3"/>
<path class="d" stroke="#ff00ff" stroke-dasharray="22.8 22.1" stroke-dashoffset="35.77" d="M94,867.8 95.7,875.1 97.3,882.8 99,890.7 100.6,898.8 102.3,908.1 103.9,918.1 105.6,927.5 107.2,934.7 108.9,939.4 110.5,942.9 112.2,946.4 113.8,950.9 115.5,957.5 117.2,965.8 118.8,974 120.5,980.2 122.1,984.3 123.8,987.6 125.4,990.5 127.1,993.6 128.7,996.7 130.4,999.6 132,1002.7 133.7,1006.1 135.3,1010 137,1014.5 138.6,1018.9 140.3,1022.9 142,1026.2 143.6,1029.3 145.3,1032.7 146.9,1035.7 148.6,1037.6 150.2,1039 151.9,1040.4 153.5,1042 155.2,1044.1 156.8,1046.5 158.5,1049 160.1,1051.6 161.8,1054.2 163.4,1057 165.1,1059.5 166.8,1061.5 168.4,1062.9 170.1,1064 171.7,1065 173.4,1066.3 175,1068.2 176.7,1070.5 178.3,1072.8 180,1075 181.6,1076.9 183.3,1078.7 184.9,1080.4 186.6,1081.9 188.3,1083.4 189.9,1084.7 191.6,1085.9 193.2,1087.2 194.9,1088.5 196.5,1089.7 198.2,1091 199.8,1092.2 201.5,1093.4 203.1,1094.7 204.8,1095.9 206.4,1097 208.1,1098 209.8,1099 211.4,1100 213.1,1101 214.7,1101.9 216.4,1102.8 218,1103.7 219.7,1104.6 221.3,1105.4 223,1106.3 224.6,1107.2 226.3,1108 227.9,1108.8 229.6,1109.6 231.2,1110.3 232.9,1110.9 234.6,1111.4 236.2,1111.8 237.9,1112.2 239.5,1112.6 241.2,1113 242.8,1113.4 244.5,1113.8 246.1,1114.2 247.8,1114.6 249.4,1115 251.1,1115.4 252.7,1115.8 254.4,1116.1 256.1,1116.5 257.7,1116.9 259.4,1117.3 261,1117.8 262.7,1118.2 264.3,1118.7 266,1119.2 267.6,1119.7 269.3,1120.2 270.9,1120.7 272.6,1121.2 274.2,1121.7 275.9,1122.2 277.5,1122.6 279.2,1123.1 280.9,1123.6 282.5,1124.1 284.2,1124.6 285.8,1125 287.5,1125.3 289.1,1125.5 290.8,1125.8 292.4,1126 294.1,1126.3 295.7,1126.6 297.4,1126.9 299,1127.1 300.7,1127.2 302.4,1127.3 304,1127.5 305.7,1127.6 307.3,1128 309,1128.5 310.6,1128.9 312.3,1129.1 313.9,1129.1 315.6,1129.1 317.2,1129 318.9,1129 320.5,1128.9 322.2,1128.9 323.8,1128.9 325.5,1128.8 327.2,1128.8 328.8,1128.7 330.5,1128.6 332.1,1128.5 333.8,1128.3 335.4,1128.1 337.1,1127.9 338.7,1127.6 340.4,1127.3 342,1126.9 343.7,1126.4 345.3,1125.8 347,1124.9 348.6,1123.7 350.3,1122.4 352,1121 353.6,1119.8 355.3,1118.5 356.9,1117.1 358.6,1115.7 360.2,1114.1 361.9,1112.3 363.5,1110.5 365.2,1108.6 366.8,1106.5 368.5,1104.3 370.1,1102 371.8,1099.7 373.5,1097.2 375.1,1094.7 376.8,1092.1 378.4,1089.4 380.1,1086.8 381.7,1084.1 383.4,1081.3 385,1078.4 386.7,1075.4 388.3,1072.2 390,1069 391.6,1065.9 393.3,1062.7 394.9,1059.5 396.6,1056.3 398.3,1053.5 399.9,1050.9 401.6,1048.4 403.2,1046.1 404.9,1043.8 406.5,1041.5 408.2,1039.1 409.8,1036.9 411.5,1034.9 413.1,1033.1 414.8,1031.5 416.4,1030.1 418.1,1028.7 419.8,1027.2 421.4,1025.6 423.1,1024.4 424.7,1023.9 426.4,1023.8 428,1023.7 429.7,1023.7 431.3,1023.7 433,1024.1 434.6,1025 436.3,1026.2 437.9,1027.5 439.6,1028.9 441.2,1030.6 442.9,1032.5 444.6,1034.5 446.2,1036.8 447.9,1039.3 449.5,1041.9 451.2,1044.7 452.8,1047.5 454.5,1050.4 456.1,1053.3 457.8,1056.2 459.4,1058.9 461.1,1061.6 462.7,1064.2 464.4,1066.7 466.1,1069.1 467.7,1071.5 469.4,1073.7 471,1075.8 472.7,1077.9 474.3,1079.9 476,1081.8 477.6,1083.2 479.3,1084.2 480.9,1085 482.6,1085.7 484.2,1086.4 485.9,1087.2 487.6,1088.1 489.2,1088.8 490.9,1089.1 492.5,1089.1 494.2,1089.1 495.8,1089.1 497.5,1089.1 499.1,1088.7 500.8,1087.7 502.4,1086.4 504.1,1085 505.7,1083.4 507.4,1081.4 509,1079.2 510.7,1076.8 512.4,1074.2 514,1071.4 515.7,1068.3 517.3,1065.2 519,1061.9 520.6,1058.5 522.3,1055 523.9,1051.5 525.6,1047.8 527.2,1044.1 528.9,1040.3 530.5,1036.7 532.2,1033.2 533.8,1029.6 535.5,1026.3 537.2,1023.6 538.8,1021.2 540.5,1019 542.1,1017.3 543.8,1016.6 545.4,1016.8 547.1,1017.3 548.7,1018.1 550.4,1019.2 552,1021.2 553.7,1024.8 555.3,1029.2 557,1033.8 558.7,1038.4 560.3,1043.7 562,1049.3 563.6,1055.3 565.3,1061.7 566.9,1068.7 568.6,1075.8 570.2,1082.7 571.9,1089.3 573.5,1095.8 575.2,1102.1 576.8,1108.1 578.5,1113.9 580.1,1119.4 581.8,1124.8 583.5,1129.7 585.1,1134.4 586.8,1138.8 588.4,1142.9 590.1,1146.7 591.7,1150.1 593.4,1153.4 595,1156.4 596.7,1159.1 598.3,1161.6 600,1163.9 601.6,1166 603.3,1167.9 605,1169.7 606.6,1171.4 608.3,1172.9 609.9,1174.2 611.6,1175.3 613.2,1176.2 614.9,1177 616.5,1178 618.2,1179 619.8,1180.2 621.5,1181.3 623.1,1182.1 624.8,1182.6 626.5,1183 628.1,1183.4 629.8,1183.8 631.4,1184.2 633.1,1184.7 634.7,1185.1 636.4,1185.5 638,1185.8 639.7,1186.1 641.3,1186.3 643,1186.5 644.6,1186.7 646.3,1186.8 647.9,1186.9 649.6,1187 651.3,1187.1 652.9,1187.2 654.6,1187.3 656.2,1187.4 657.9,1187.5 659.5,1187.7 661.2,1187.8 662.8,1187.9 664.5,1188 666.1,1188.1 667.8,1188.2 669.4,1188.3 671.1,1188.4 672.8,1188.5 674.4,1188.6 676.1,1188.7 677.7,1188.8 679.4,1188.8 681,1188.9 682.7,1189 684.3,1189 686,1189.1 687.6,1189.2 689.3,1189.2 690.9,1189.3 692.6,1189.4 694.2,1189.4 695.9,1189.5 697.6,1189.6 699.2,1189.6 700.9,1189.7 702.5,1189.8 704.2,1189.8 705.8,1189.9 707.5,1189.9 709.1,1190 710.8,1190 712.4,1190 714.1,1190.1 715.7,1190.1 717.4,1190.2 719.1,1190.2 720.7,1190.2 722.4,1190.3 724,1190.3 725.7,1190.3 727.3,1190.4 729,1190.4 730.6,1190.5 732.3,1190.5 733.9,1190.5 735.6,1190.6 737.2,1190.6 738.9,1190.6 740.5,1190.7 742.2,1190.7 743.9,1190.7 745.5,1190.7 747.2,1190.7 748.8,1190.7 750.5,1190.8 752.1,1190.8 753.8,1190.8 755.4,1190.8 757.1,1190.8 758.7,1190.8 760.4,1190.8 762,1190.9 763.7,1190.9 765.4,1190.9 767,1190.9 768.7,1190.9 770.3,1190.9 772,1190.9 773.6,1191 775.3,1191 776.9,1191 778.6,1191 780.2,1191 781.9,1191 783.5,1191 785.2,1191 786.8,1191 788.5,1191"/>
</g>
<text class="t" x="86.6" y="1203.3" text-anchor="end">0</text>
<text class="t" x="91" y="1124.25" text-anchor="end">0.4</text>
<text class="t" x="91" y="1045.2" text-anchor="end">0.8</text>
<text class="t" x="91" y="966.15" text-anchor="end">1.2</text>
<text class="t" x="91" y="887.1" text-anchor="end">1.6</text>
<text class="t" x="129.07" y="1231" text-anchor="middle">450</text>
<text class="t" x="294.43" y="1231" text-anchor="middle">500</text>
<text class="t" x="459.79" y="1231" text-anchor="middle">550</text>
<text class="t" x="625.14" y="1231" text-anchor="middle">600</text>
<text class="t" x="790.5" y="1231" text-anchor="middle">650</text>
<text class="t m" x="792.5" y="1203.3">0</text>
<text class="t m" x="792.5" y="1045.2">5</text>
<text class="t m" x="792.5" y="895.8">10</text>
<text class="t m" x="789.3" y="859.1"><tspan dy="4.0">×</tspan><tspan dx="1.9" dy="-4.0">10</tspan><tspan dx="-4.6" dy="-19">4</tspan></text>
<text class="l" transform="translate(31.9,1035.3) rotate(-90)" text-anchor="middle">Absorbance</text>
<text class="b" x="95.9" y="861.4" font-size="36.67">e</text>
</g>
<g id="panel-f">
<clipPath id="cpf"><rect x="917.4" y="875.5" width="694.8" height="316.9"/></clipPath>
<path class="g" d="M1050.9,876 V1192.2 M1184.4,876 V1192.2 M1317.9,876 V1192.2 M1451.4,876 V1192.2 M1584.9,876 V1192.2"/>
<path class="g" d="M917.4,1113.15 H1611.6 M917.4,1034.1 H1611.6 M917.4,955.05 H1611.6"/>
<path class="ax" d="M1611.6,876 H917.4 V1192.2 H1611.6"/>
<path class="ax" d="M1050.9,1192.2 v-8 M1050.9,876 v8 M1184.4,1192.2 v-8 M1184.4,876 v8 M1317.9,1192.2 v-8 M1317.9,876 v8 M1451.4,1192.2 v-8 M1451.4,876 v8 M1584.9,1192.2 v-8 M1584.9,876 v8 M917.4,1192.2 h8 M917.4,1113.15 h8 M917.4,1034.1 h8 M917.4,955.05 h8 M917.4,876 h8"/>
<path class="am" d="M1611.6,875 V1193.2 M1611.6,1192.2 h-8.2 M1611.6,1113.15 h-8.2 M1611.6,1034.1 h-8.2 M1611.6,955.05 h-8.2 M1611.6,876 h-8.2"/>
<g clip-path="url(#cpf)">
<path class="d" stroke="#0000ff" d="M917.7,928.4 919.7,929.2 921.7,930 923.7,930.8 925.7,931.7 927.7,932.5 929.7,933.3 931.7,934.1 933.7,935 935.7,935.8 937.7,936.7 939.7,937.5 941.7,938.3 943.7,939.2 945.7,940.1 947.7,941 949.7,941.8 951.7,942.7 953.7,943.6 955.7,944.5 957.7,945.5 959.7,946.4 961.7,947.3 963.7,948.3 965.7,949.3 967.7,950.3 969.7,951.3 971.7,952.3 973.7,953.3 975.7,954.3 977.7,955.3 979.7,956.3 981.7,957.3 983.7,958.3 985.7,959.3 987.7,960.3 989.7,961.3 991.7,962.3 993.7,963.2 995.7,964.2 997.7,965.1 999.7,966 1001.7,967 1003.7,967.8 1005.7,968.7 1007.7,969.6 1009.7,970.4 1011.7,971.2 1013.7,972 1015.7,972.8 1017.7,973.5 1019.7,974.3 1021.7,975 1023.7,975.7 1025.7,976.3 1027.7,977 1029.7,977.6 1031.7,978.2 1033.7,978.7 1035.7,979.3 1037.7,979.8 1039.7,980.3 1041.7,980.8 1043.7,981.3 1045.7,981.7 1047.7,982.1 1049.7,982.5 1051.7,982.9 1053.7,983.3 1055.7,983.7 1057.7,984 1059.7,984.4 1061.7,984.7 1063.7,985.1 1065.7,985.4 1067.7,985.8 1069.7,986.1 1071.7,986.4 1073.7,986.7 1075.7,987 1077.7,987.3 1079.7,987.6 1081.7,987.9 1083.7,988.2 1085.7,988.4 1087.7,988.7 1089.7,988.9 1091.7,989.1 1093.7,989.3 1095.7,989.5 1097.7,989.7 1099.7,989.8 1101.7,989.9 1103.7,990 1105.7,990.1 1107.7,990.1 1109.7,990.1 1111.7,990.1 1113.7,990 1115.7,990 1117.7,989.9 1119.7,989.7 1121.7,989.6 1123.7,989.4 1125.7,989.2 1127.7,988.9 1129.7,988.7 1131.7,988.4 1133.7,988 1135.7,987.7 1137.7,987.3 1139.7,986.9 1141.7,986.5 1143.7,986.1 1145.7,985.7 1147.7,985.2 1149.7,984.7 1151.7,984.3 1153.7,983.8 1155.7,983.3 1157.7,982.8 1159.7,982.3 1161.7,981.8 1163.7,981.3 1165.7,980.8 1167.7,980.3 1169.7,979.8 1171.7,979.3 1173.7,978.8 1175.7,978.3 1177.7,977.8 1179.7,977.3 1181.7,976.9 1183.7,976.4 1185.7,976 1187.7,975.6 1189.7,975.3 1191.7,975 1193.7,974.7 1195.7,974.6 1197.7,974.4 1199.7,974.4 1201.7,974.4 1203.7,974.6 1205.7,974.7 1207.7,975 1209.7,975.3 1211.7,975.7 1213.7,976 1215.7,976.5 1217.7,976.9 1219.7,977.4 1221.7,977.8 1223.7,978.3 1225.7,978.7 1227.7,979.2 1229.7,979.7 1231.7,980.1 1233.7,980.6 1235.7,981 1237.7,981.4 1239.7,981.9 1241.7,982.3 1243.7,982.6 1245.7,983 1247.7,983.3 1249.7,983.7 1251.7,984 1253.7,984.3 1255.7,984.5 1257.7,984.8 1259.7,985 1261.7,985.2 1263.7,985.4 1265.7,985.6 1267.7,985.7 1269.7,985.9 1271.7,986 1273.7,986.1 1275.7,986.2 1277.7,986.2 1279.7,986.3 1281.7,986.3 1283.7,986.3 1285.7,986.4 1287.7,986.4 1289.7,986.3 1291.7,986.3 1293.7,986.3 1295.7,986.3 1297.7,986.2 1299.7,986.2 1301.7,986.1 1303.7,986.1 1305.7,986 1307.7,986 1309.7,985.9 1311.7,985.8 1313.7,985.8 1315.7,985.7 1317.7,985.6 1319.7,985.6 1321.7,985.5 1323.7,985.4 1325.7,985.4 1327.7,985.3 1329.7,985.2 1331.7,985.1 1333.7,985 1335.7,984.9 1337.7,984.9 1339.7,984.7 1341.7,984.6 1343.7,984.5 1345.7,984.4 1347.7,984.2 1349.7,984.1 1351.7,983.9 1353.7,983.7 1355.7,983.5 1357.7,983.3 1359.7,983.1 1361.7,982.8 1363.7,982.5 1365.7,982.3 1367.7,982 1369.7,981.6 1371.7,981.3 1373.7,981 1375.7,980.7 1377.7,980.3 1379.7,980 1381.7,979.7 1383.7,979.4 1385.7,979.1 1387.7,978.9 1389.7,978.6 1391.7,978.4 1393.7,978.2 1395.7,978.1 1397.7,977.9 1399.7,977.8 1401.7,977.7 1403.7,977.6 1405.7,977.5 1407.7,977.4 1409.7,977.3 1411.7,977.3 1413.7,977.2 1415.7,977.1 1417.7,977.1 1419.7,977 1421.7,977 1423.7,976.9 1425.7,976.8 1427.7,976.7 1429.7,976.6 1431.7,976.6 1433.7,976.5 1435.7,976.4 1437.7,976.3 1439.7,976.2 1441.7,976 1443.7,975.9 1445.7,975.8 1447.7,975.7 1449.7,975.6 1451.7,975.5 1453.7,975.4 1455.7,975.3 1457.7,975.2 1459.7,975.1 1461.7,975 1463.7,974.9 1465.7,974.8 1467.7,974.8 1469.7,974.7 1471.7,974.6 1473.7,974.5 1475.7,974.5 1477.7,974.4 1479.7,974.3 1481.7,974.3 1483.7,974.2 1485.7,974.2 1487.7,974.1 1489.7,974.1 1491.7,974 1493.7,974 1495.7,973.9 1497.7,973.9 1499.7,973.8 1501.7,973.8 1503.7,973.7 1505.7,973.7 1507.7,973.6 1509.7,973.6 1511.7,973.5 1513.7,973.5 1515.7,973.4 1517.7,973.4 1519.7,973.3 1521.7,973.3 1523.7,973.2 1525.7,973.2 1527.7,973.1 1529.7,973.1 1531.7,973 1533.7,973 1535.7,972.9 1537.7,972.9 1539.7,972.8 1541.7,972.8 1543.7,972.7 1545.7,972.7 1547.7,972.6 1549.7,972.6 1551.7,972.6 1553.7,972.5 1555.7,972.5 1557.7,972.5 1559.7,972.4 1561.7,972.4 1563.7,972.4 1565.7,972.4 1567.7,972.4 1569.7,972.4 1571.7,972.4 1573.7,972.4 1575.7,972.4 1577.7,972.4 1579.7,972.4 1581.7,972.5 1583.7,972.5 1585.7,972.5 1587.7,972.5 1589.7,972.6 1591.7,972.6 1593.7,972.6 1595.7,972.6 1597.7,972.7 1599.7,972.7 1601.7,972.8 1603.7,972.8 1605.7,972.8 1607.7,972.9 1609.3,972.9"/>
<path class="d" stroke="#000" stroke-dasharray="22.8 22.1" stroke-dashoffset="21.61" d="M901.4,869 904,874 906.7,878.8 909.4,883.1 912.1,887.3 914.7,891.5 917.4,895.8 920.1,900 922.7,904.2 925.4,908.5 928.1,912.7 930.8,917 933.4,921.2 936.1,925.6 938.8,929.7 941.4,933.5 944.1,937.1 946.8,940.6 949.4,944 952.1,947.4 954.8,950.8 957.4,954.2 960.1,957.6 962.8,961 965.5,964.4 968.1,967.8 970.8,971.2 973.5,974.7 976.1,978.1 978.8,981.3 981.5,984.5 984.1,987.4 986.8,990.3 989.5,993.2 992.2,996.1 994.8,999 997.5,1001.9 1000.2,1004.7 1002.8,1007.6 1005.5,1010.5 1008.2,1013.4 1010.8,1016.3 1013.5,1019.2 1016.2,1022.2 1018.9,1025 1021.5,1027.6 1024.2,1030 1026.9,1032.1 1029.5,1034.1 1032.2,1036.1 1034.9,1038.1 1037.5,1040.2 1040.2,1042.2 1042.9,1044.2 1045.6,1046.3 1048.2,1048.3 1050.9,1050.4 1053.6,1052.5 1056.2,1054.6 1058.9,1056.7 1061.6,1058.8 1064.2,1060.9 1066.9,1063 1069.6,1065.1 1072.3,1067 1074.9,1068.8 1077.6,1070.4 1080.3,1072.1 1082.9,1073.8 1085.6,1075.5 1088.3,1077.2 1091,1078.9 1093.6,1080.6 1096.3,1082.3 1099,1084 1101.6,1085.7 1104.3,1087.4 1107,1089 1109.6,1090.6 1112.3,1092.2 1115,1093.8 1117.6,1095.4 1120.3,1097 1123,1099 1125.7,1101.1 1128.3,1103.6 1131,1105.1 1133.7,1105.1 1136.3,1105.1 1139,1105.1 1141.7,1105.1 1144.3,1105.1 1147,1105.1 1149.7,1105.2 1152.4,1105.2 1155,1104.8 1157.7,1104 1160.4,1102.4 1163,1100.4 1165.7,1098.6 1168.4,1096.8 1171,1094.5 1173.7,1092.1 1176.4,1089.5 1179.1,1086.8 1181.7,1084.1 1184.4,1081.1 1187.1,1076.3 1189.7,1072.4 1192.4,1071.2 1195.1,1070.3 1197.8,1069.4 1200.4,1068.8 1203.1,1068.8 1205.8,1068.8 1208.4,1069.1 1211.1,1069.8 1213.8,1071.1 1216.4,1073 1219.1,1074.8 1221.8,1076.8 1224.4,1078.8 1227.1,1080.7 1229.8,1082.6 1232.5,1084.6 1235.1,1086.5 1237.8,1088.5 1240.5,1090.5 1243.1,1092.4 1245.8,1094.4 1248.5,1096.3 1251.2,1098.3 1253.8,1100.2 1256.5,1102.2 1259.2,1104.1 1261.8,1105.7 1264.5,1107.2 1267.2,1108.7 1269.8,1110.3 1272.5,1111.9 1275.2,1113.4 1277.8,1115 1280.5,1116.5 1283.2,1118 1285.9,1119.3 1288.5,1120.6 1291.2,1121.8 1293.9,1123 1296.5,1124.2 1299.2,1125.5 1301.9,1126.7 1304.5,1127.8 1307.2,1128.7 1309.9,1129.6 1312.6,1130.4 1315.2,1131.2 1317.9,1132 1320.6,1132.8 1323.2,1133.4 1325.9,1133.7 1328.6,1133.9 1331.2,1134.2 1333.9,1134.5 1336.6,1134.7 1339.3,1135 1341.9,1135.3 1344.6,1135.5 1347.3,1135.7 1349.9,1135.9 1352.6,1136.1 1355.3,1136.3 1357.9,1136.6 1360.6,1136.8 1363.3,1137 1366,1137.2 1368.6,1137.3 1371.3,1137.4 1374,1137.4 1376.6,1137.4 1379.3,1137.4 1382,1137.4 1384.7,1137.4 1387.3,1137.4 1390,1137.4 1392.7,1137.4 1395.3,1137.4 1398,1137.4 1400.7,1137.4 1403.3,1137.4 1406,1137.4 1408.7,1137.4 1411.3,1137.4 1414,1137.4 1416.7,1137.5 1419.4,1137.5 1422,1137.5 1424.7,1137.5 1427.4,1137.5 1430,1137.5 1432.7,1137.5 1435.4,1137.5 1438,1137.5 1440.7,1137.5 1443.4,1137.5 1446.1,1137.5 1448.7,1137.5 1451.4,1137.6 1454.1,1137.6 1456.7,1137.6 1459.4,1137.6 1462.1,1137.6 1464.8,1137.6 1467.4,1137.6 1470.1,1137.6 1472.8,1137.5 1475.4,1137.4 1478.1,1137.3 1480.8,1137.2 1483.4,1137.2 1486.1,1137.1 1488.8,1137 1491.4,1136.9 1494.1,1136.9 1496.8,1136.8 1499.5,1136.7 1502.1,1136.6 1504.8,1136.4 1507.5,1136.2 1510.1,1136.1 1512.8,1135.9 1515.5,1135.8 1518.2,1135.6 1520.8,1135.4 1523.5,1135.3 1526.2,1135.1 1528.8,1134.9 1531.5,1134.8 1534.2,1134.6 1536.8,1134.4 1539.5,1134.3 1542.2,1134.1 1544.8,1134 1547.5,1133.8 1550.2,1133.6 1552.9,1133.5 1555.5,1133.3 1558.2,1133.1 1560.9,1133 1563.5,1132.8 1566.2,1132.7 1568.9,1132.5 1571.5,1132.3 1574.2,1132.2 1576.9,1132 1579.6,1131.8 1582.2,1131.7 1584.9,1131.5 1587.6,1131.4 1590.2,1131.2 1592.9,1131 1595.6,1130.9 1598.2,1130.7 1600.9,1130.5 1603.6,1130.4 1606.3,1130.2 1608.9,1130.1 1609.4,1130"/>
<path class="d" stroke="#ff00ff" stroke-dasharray="22.8 22.1" stroke-dashoffset="32.23" d="M901.4,1160.2 904,1160.8 906.7,1161.3 909.4,1161.8 912.1,1162.2 914.7,1162.7 917.4,1163.1 920.1,1163.6 922.7,1164 925.4,1164.4 928.1,1164.9 930.8,1165.3 933.4,1165.7 936.1,1166.1 938.8,1166.5 941.4,1166.7 944.1,1166.9 946.8,1167.2 949.4,1167.4 952.1,1167.6 954.8,1167.8 957.4,1168 960.1,1168.3 962.8,1168.5 965.5,1168.6 968.1,1168.8 970.8,1169 973.5,1169.1 976.1,1169.3 978.8,1169.5 981.5,1169.6 984.1,1169.8 986.8,1169.9 989.5,1170 992.2,1170.1 994.8,1170.2 997.5,1170.3 1000.2,1170.3 1002.8,1170.4 1005.5,1170.4 1008.2,1170.5 1010.8,1170.6 1013.5,1170.6 1016.2,1170.6 1018.9,1170.5 1021.5,1170.4 1024.2,1170.4 1026.9,1170.3 1029.5,1170.3 1032.2,1170.2 1034.9,1170.1 1037.5,1170 1040.2,1169.9 1042.9,1169.8 1045.6,1169.6 1048.2,1169.4 1050.9,1169.3 1053.6,1169.1 1056.2,1169 1058.9,1168.8 1061.6,1168.6 1064.2,1168.5 1066.9,1168.3 1069.6,1168 1072.3,1167.8 1074.9,1167.6 1077.6,1167.4 1080.3,1167.2 1082.9,1166.9 1085.6,1166.7 1088.3,1166.5 1091,1166.2 1093.6,1166 1096.3,1165.6 1099,1165.3 1101.6,1165 1104.3,1164.7 1107,1164.4 1109.6,1164.1 1112.3,1163.7 1115,1163.4 1117.6,1163.1 1120.3,1162.8 1123,1162.4 1125.7,1162.1 1128.3,1161.7 1131,1161.4 1133.7,1161 1136.3,1160.7 1139,1160.3 1141.7,1160 1144.3,1159.6 1147,1159.1 1149.7,1158.6 1152.4,1158 1155,1157.5 1157.7,1156.9 1160.4,1156.4 1163,1155.9 1165.7,1155.3 1168.4,1154.8 1171,1154.2 1173.7,1153.7 1176.4,1153.1 1179.1,1152.5 1181.7,1151.9 1184.4,1151.3 1187.1,1150.7 1189.7,1150.1 1192.4,1149.4 1195.1,1148.8 1197.8,1148.3 1200.4,1147.8 1203.1,1147.3 1205.8,1146.8 1208.4,1146.4 1211.1,1145.9 1213.8,1145.4 1216.4,1144.9 1219.1,1144.5 1221.8,1144 1224.4,1143.5 1227.1,1143 1229.8,1142.4 1232.5,1141.9 1235.1,1141.4 1237.8,1140.8 1240.5,1140.3 1243.1,1139.7 1245.8,1139.2 1248.5,1138.7 1251.2,1138.2 1253.8,1137.7 1256.5,1137.3 1259.2,1136.9 1261.8,1136.5 1264.5,1136.1 1267.2,1135.7 1269.8,1135.3 1272.5,1134.8 1275.2,1134.4 1277.8,1134.1 1280.5,1133.7 1283.2,1133.4 1285.9,1133.1 1288.5,1132.8 1291.2,1132.4 1293.9,1132.1 1296.5,1131.8 1299.2,1131.5 1301.9,1131.2 1304.5,1130.7 1307.2,1130 1309.9,1129.2 1312.6,1128.4 1315.2,1128 1317.9,1127.7 1320.6,1127.2 1323.2,1126.7 1325.9,1126.4 1328.6,1126.1 1331.2,1125.8 1333.9,1125.5 1336.6,1125 1339.3,1124.5 1341.9,1124.2 1344.6,1123.9 1347.3,1123.6 1349.9,1123.3 1352.6,1122.9 1355.3,1122.6 1357.9,1122.4 1360.6,1122.1 1363.3,1121.5 1366,1120.9 1368.6,1120.4 1371.3,1119.8 1374,1119.2 1376.6,1118.7 1379.3,1118.1 1382,1117.5 1384.7,1117 1387.3,1116.6 1390,1116.2 1392.7,1115.9 1395.3,1115.6 1398,1115.2 1400.7,1114.9 1403.3,1114.5 1406,1114.2 1408.7,1113.8 1411.3,1113.4 1414,1113.1 1416.7,1112.6 1419.4,1112.2 1422,1111.8 1424.7,1111.4 1427.4,1111 1430,1110.6 1432.7,1110.2 1435.4,1109.8 1438,1109.4 1440.7,1109.2 1443.4,1109 1446.1,1108.9 1448.7,1108.7 1451.4,1108.6 1454.1,1108.4 1456.7,1108.2 1459.4,1108.1 1462.1,1107.9 1464.8,1107.7 1467.4,1107.4 1470.1,1107 1472.8,1106.6 1475.4,1106.3 1478.1,1105.9 1480.8,1105.5 1483.4,1105.1 1486.1,1104.7 1488.8,1104.4 1491.4,1104.1 1494.1,1103.8 1496.8,1103.6 1499.5,1103.4 1502.1,1103.2 1504.8,1103 1507.5,1102.8 1510.1,1102.7 1512.8,1102.5 1515.5,1102.3 1518.2,1102.1 1520.8,1101.9 1523.5,1101.6 1526.2,1101.4 1528.8,1101.2 1531.5,1101 1534.2,1100.8 1536.8,1100.5 1539.5,1100.3 1542.2,1100.1 1544.8,1099.9 1547.5,1099.7 1550.2,1099.5 1552.9,1099.4 1555.5,1099.2 1558.2,1099.1 1560.9,1098.9 1563.5,1098.8 1566.2,1098.6 1568.9,1098.4 1571.5,1098.3 1574.2,1098.1 1576.9,1098 1579.6,1097.8 1582.2,1097.7 1584.9,1097.5 1587.6,1097.3 1590.2,1097.2 1592.9,1097 1595.6,1096.9 1598.2,1096.7 1600.9,1096.6 1603.6,1096.5 1606.3,1096.4 1608.9,1096.3 1609.4,1096.3"/>
</g>
<text class="t" x="910" y="1203.3" text-anchor="end">0</text>
<text class="t" x="914.4" y="1124.25" text-anchor="end">0.2</text>
<text class="t" x="914.4" y="1045.2" text-anchor="end">0.4</text>
<text class="t" x="914.4" y="966.15" text-anchor="end">0.6</text>
<text class="t" x="914.4" y="887.1" text-anchor="end">0.8</text>
<text class="t" x="919.4" y="1231" text-anchor="middle">650</text>
<text class="t" x="1052.9" y="1231" text-anchor="middle">700</text>
<text class="t" x="1186.4" y="1231" text-anchor="middle">750</text>
<text class="t" x="1319.9" y="1231" text-anchor="middle">800</text>
<text class="t" x="1453.4" y="1231" text-anchor="middle">850</text>
<text class="t" x="1586.9" y="1231" text-anchor="middle">900</text>
<text class="t m" x="1619.8" y="1203.3">0</text>
<text class="t m" x="1619.8" y="1124.25">1000</text>
<text class="t m" x="1619.8" y="1045.2">2000</text>
<text class="t m" x="1619.8" y="966.15">3000</text>
<text class="t m" x="1619.8" y="887.1">4000</text>
<text class="l m" transform="translate(1731.8,1028.7) rotate(-90)" text-anchor="middle">Molar Extinction</text>
<text class="l m" transform="translate(1771.2,1029.4) rotate(-90)" text-anchor="middle">Coefficient (cm<tspan dy="-12.5" font-size="23">-1</tspan><tspan dy="12.5">M</tspan><tspan dy="-12.5" font-size="23">-1</tspan><tspan dy="12.5">)</tspan></text>
<text class="b" x="918.4" y="861.1" font-size="36.67">f</text>
</g>
<text class="l" x="466.4" y="1271.7" text-anchor="middle">Wavelength (nm)</text>
<text class="l" x="1289" y="1271.7" text-anchor="middle">Wavelength (nm)</text>
<g id="legend-a">
<rect x="1802.5" y="158.1" width="247.6" height="117.9" fill="#fff" stroke="#262626" stroke-width="2"/>
<path class="d" stroke="#ff0000" d="M1812,183.5 H1906"/>
<path class="d" stroke="#000" stroke-dasharray="22.8 22.1" d="M1812,216.4 H1906"/>
<path class="d" stroke="#ff00ff" stroke-dasharray="22.8 22.1" d="M1812,254.6 H1906"/>
<text class="t k" x="1912.4" y="193.9">Mean TT</text>
<text class="t k" x="1912.4" y="226.4">deoxyHb</text>
<text class="t k" x="1912.4" y="260.2">HbO<tspan dy="6.5" font-size="25.5">2</tspan></text>
</g>
<g id="legend-c">
<rect x="1802.5" y="563.3" width="247.6" height="117.9" fill="#fff" stroke="#262626" stroke-width="2"/>
<path class="d" stroke="#00ff00" d="M1812,589.5 H1906"/>
<path class="d" stroke="#000" stroke-dasharray="22.8 22.1" d="M1812,622.5 H1906"/>
<path class="d" stroke="#ff00ff" stroke-dasharray="22.8 22.1" d="M1812,660.7 H1906"/>
<text class="t k" x="1912.4" y="599.1">Mean NT</text>
<text class="t k" x="1912.4" y="631.6">deoxyHb</text>
<text class="t k" x="1912.4" y="665.4">HbO<tspan dy="6.5" font-size="25.5">2</tspan></text>
</g>
<g id="legend-e">
<rect x="1802.5" y="972.6" width="247.6" height="117.9" fill="#fff" stroke="#262626" stroke-width="2"/>
<path class="d" stroke="#0000ff" d="M1812,995.5 H1906"/>
<path class="d" stroke="#000" stroke-dasharray="22.8 22.1" d="M1812,1028.5 H1906"/>
<path class="d" stroke="#ff00ff" stroke-dasharray="22.8 22.1" d="M1812,1067 H1906"/>
<text class="t k" x="1912.4" y="1008.4">Mean BV</text>
<text class="t k" x="1912.4" y="1040.9">deoxyHb</text>
<text class="t k" x="1912.4" y="1074.7">HbO<tspan dy="6.5" font-size="25.5">2</tspan></text>
</g>
</svg></body></html>
